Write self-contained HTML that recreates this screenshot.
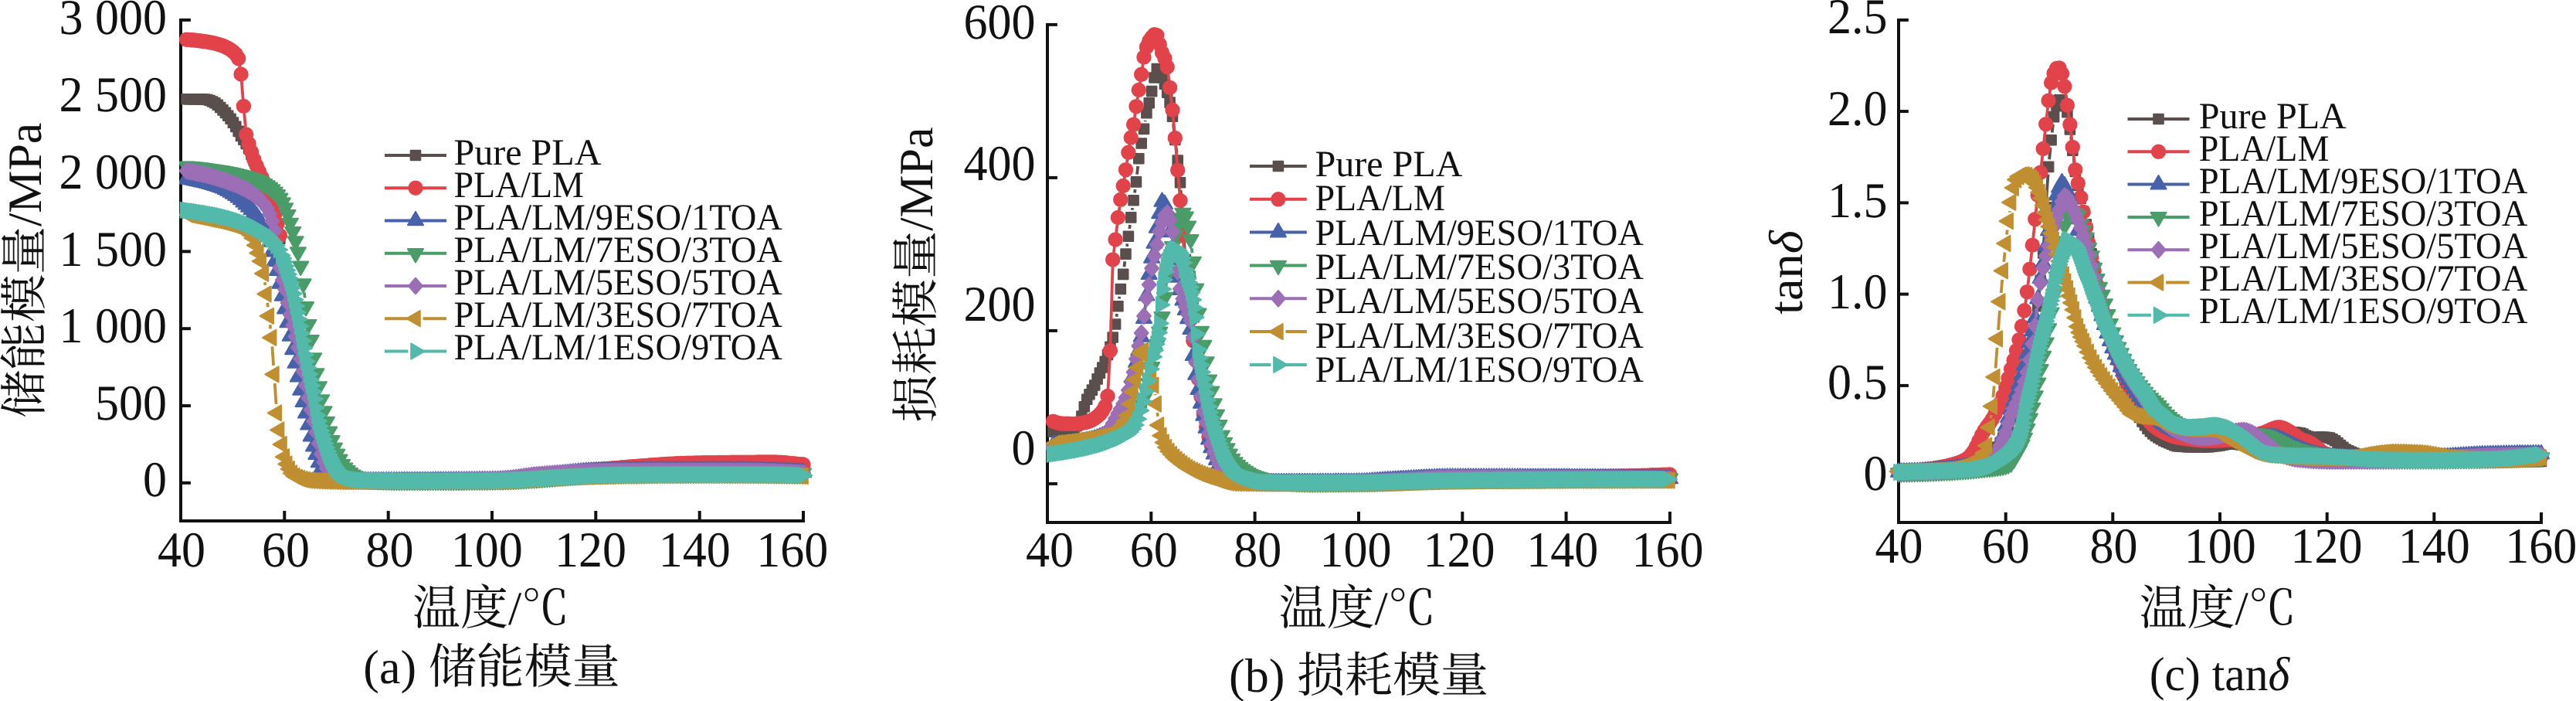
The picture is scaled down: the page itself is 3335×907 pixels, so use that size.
<!DOCTYPE html><html><head><meta charset="utf-8"><title>DMA</title>
<style>html,body{margin:0;padding:0;background:#fff;overflow:hidden}svg{display:block;will-change:transform}text{font-family:'Liberation Serif','Noto Serif CJK SC',serif;fill:#111;text-rendering:geometricPrecision}</style></head><body>
<svg width="3335" height="907" viewBox="0 0 3335 907">
<rect width="3335" height="907" fill="#fff"/>
<defs>
<marker id="m-gray" markerUnits="userSpaceOnUse" markerWidth="30" markerHeight="30" viewBox="-15 -15 30 30" refX="0" refY="0" orient="0" overflow="visible"><g fill="#5a4f4d" stroke="#5a4f4d" stroke-width="2" stroke-linejoin="round"><rect x="-6.3" y="-6.3" width="12.6" height="12.6"/></g></marker>
<marker id="m-red" markerUnits="userSpaceOnUse" markerWidth="30" markerHeight="30" viewBox="-15 -15 30 30" refX="0" refY="0" orient="0" overflow="visible"><g fill="#e2434a" stroke="#e2434a" stroke-width="2" stroke-linejoin="round"><circle r="8.7"/></g></marker>
<marker id="m-blue" markerUnits="userSpaceOnUse" markerWidth="30" markerHeight="30" viewBox="-15 -15 30 30" refX="0" refY="0" orient="0" overflow="visible"><g fill="#4762a9" stroke="#4762a9" stroke-width="2" stroke-linejoin="round"><path d="M0,-11.6 L10.05,5.8 L-10.05,5.8Z"/></g></marker>
<marker id="m-green" markerUnits="userSpaceOnUse" markerWidth="30" markerHeight="30" viewBox="-15 -15 30 30" refX="0" refY="0" orient="0" overflow="visible"><g fill="#4a9c69" stroke="#4a9c69" stroke-width="2" stroke-linejoin="round"><path d="M0,11.6 L10.05,-5.8 L-10.05,-5.8Z"/></g></marker>
<marker id="m-purple" markerUnits="userSpaceOnUse" markerWidth="30" markerHeight="30" viewBox="-15 -15 30 30" refX="0" refY="0" orient="0" overflow="visible"><g fill="#9b6eb6" stroke="#9b6eb6" stroke-width="2" stroke-linejoin="round"><path d="M0,-10.3 L9,0 L0,10.3 L-9,0Z"/></g></marker>
<marker id="m-gold" markerUnits="userSpaceOnUse" markerWidth="30" markerHeight="30" viewBox="-15 -15 30 30" refX="0" refY="0" orient="0" overflow="visible"><g fill="#c08f31" stroke="#c08f31" stroke-width="2" stroke-linejoin="round"><path d="M-11.6,0 L5.8,-10.05 L5.8,10.05Z"/></g></marker>
<marker id="m-teal" markerUnits="userSpaceOnUse" markerWidth="30" markerHeight="30" viewBox="-15 -15 30 30" refX="0" refY="0" orient="0" overflow="visible"><g fill="#53baab" stroke="#53baab" stroke-width="2" stroke-linejoin="round"><path d="M11.6,0 L-5.8,-10.05 L-5.8,10.05Z"/></g></marker>
</defs>
<g stroke="#111" stroke-width="4" fill="none" stroke-linecap="butt">
<path d="M234.0,23.9 V673.9 H1042.0"/>
<path d="M234.0,25.9 h12.9"/>
<path d="M234.0,125.7 h12.9"/>
<path d="M234.0,225.5 h12.9"/>
<path d="M234.0,325.4 h12.9"/>
<path d="M234.0,425.2 h12.9"/>
<path d="M234.0,525.0 h12.9"/>
<path d="M234.0,624.8 h12.9"/>
<path d="M368.3,673.9 v-12.9"/>
<path d="M502.7,673.9 v-12.9"/>
<path d="M637.0,673.9 v-12.9"/>
<path d="M771.3,673.9 v-12.9"/>
<path d="M905.7,673.9 v-12.9"/>
<path d="M1040.0,673.9 v-12.9"/>
</g>
<clipPath id="clip-a"><rect x="232.0" y="0" width="1200" height="907"/></clipPath><g clip-path="url(#clip-a)">
<path d="M363.1,318.5L365.1,349.2" fill="none" stroke="#5a4f4d" stroke-width="3.8"/>
<polyline points="241.5,128.2 244.9,128.2 248.2,128.3 251.6,128.3 254.9,128.3 258.3,128.4 261.6,128.4 265.0,128.5 268.4,129.0 271.7,130.0 275.1,131.5 278.4,133.2 281.8,135.8 285.2,139.0 288.5,142.4 291.9,145.9 295.2,149.7 298.6,153.8 301.9,158.6 305.3,163.9 308.7,169.9 312.0,176.0 315.4,180.7 318.7,185.9 322.1,192.2 325.5,199.9 328.8,208.0 332.2,215.4 335.5,222.8 338.9,230.7 342.2,239.2 345.6,248.2 349.0,257.8 352.3,268.3 355.7,280.0 359.0,292.8 362.4,308.7 365.8,359.0 369.1,370.7 372.5,385.4 375.8,401.9 379.2,416.2 382.6,430.4 385.9,444.6 389.3,459.0 392.6,474.5 396.0,492.0 399.3,509.1 402.7,524.8 406.1,539.8 409.4,554.2 412.8,568.5 416.1,583.1 419.5,594.4 422.9,603.4 426.2,609.0 429.6,613.2 432.9,615.9 436.3,617.4 439.6,618.7 443.0,619.8 446.4,620.5 449.7,621.0 453.1,621.2 456.4,621.5 459.8,621.7 463.1,621.9 466.5,622.1 469.9,622.3 473.2,622.4 476.6,622.6 479.9,622.7 483.3,622.8 486.7,622.9 490.0,622.9 493.4,623.0 496.7,623.0 500.1,623.0 503.4,623.0 506.8,623.0 510.2,623.0 513.5,623.0 516.9,623.0 520.2,623.0 523.6,623.0 527.0,623.0 530.3,622.9 533.7,622.9 537.0,622.9 540.4,622.9 543.8,622.9 547.1,622.9 550.5,622.9 553.8,622.8 557.2,622.8 560.5,622.8 563.9,622.8 567.3,622.7 570.6,622.7 574.0,622.7 577.3,622.7 580.7,622.6 584.0,622.6 587.4,622.6 590.8,622.6 594.1,622.5 597.5,622.5 600.8,622.5 604.2,622.4 607.6,622.4 610.9,622.3 614.3,622.3 617.6,622.3 621.0,622.2 624.4,622.2 627.7,622.2 631.1,622.1 634.4,622.1 637.8,622.0 641.1,622.0 644.5,621.9 647.9,621.8 651.2,621.7 654.6,621.6 657.9,621.5 661.3,621.3 664.7,621.2 668.0,621.0 671.4,620.8 674.7,620.6 678.1,620.4 681.4,620.1 684.8,619.9 688.2,619.6 691.5,619.4 694.9,619.1 698.2,618.8 701.6,618.5 705.0,618.2 708.3,617.9 711.7,617.6 715.0,617.3 718.4,617.0 721.7,616.7 725.1,616.4 728.5,616.1 731.8,615.8 735.2,615.5 738.5,615.2 741.9,614.9 745.2,614.6 748.6,614.3 752.0,614.0 755.3,613.8 758.7,613.5 762.0,613.2 765.4,613.0 768.8,612.7 772.1,612.5 775.5,612.3 778.8,612.1 782.2,611.9 785.5,611.7 788.9,611.5 792.3,611.2 795.6,611.0 799.0,610.8 802.3,610.6 805.7,610.4 809.1,610.1 812.4,609.9 815.8,609.7 819.1,609.5 822.5,609.2 825.9,609.0 829.2,608.8 832.6,608.6 835.9,608.4 839.3,608.2 842.6,608.0 846.0,607.8 849.4,607.6 852.7,607.4 856.1,607.2 859.4,607.1 862.8,606.9 866.1,606.8 869.5,606.6 872.9,606.5 876.2,606.4 879.6,606.3 882.9,606.2 886.3,606.1 889.7,606.1 893.0,606.0 896.4,606.0 899.7,606.0 903.1,606.0 906.5,606.0 909.8,606.0 913.2,606.0 916.5,606.0 919.9,606.0 923.2,606.1 926.6,606.1 930.0,606.1 933.3,606.1 936.7,606.2 940.0,606.2 943.4,606.3 946.8,606.3 950.1,606.4 953.5,606.4 956.8,606.5 960.2,606.5 963.5,606.6 966.9,606.7 970.3,606.8 973.6,606.9 977.0,607.0 980.3,607.1 983.7,607.2 987.1,607.3 990.4,607.4 993.8,607.5 997.1,607.6 1000.5,607.8 1003.8,607.9 1007.2,608.1 1010.6,608.3 1013.9,608.4 1017.3,608.6 1020.6,608.8 1024.0,609.0 1027.3,609.2 1030.7,609.4 1034.1,609.6 1037.4,609.8 1040.0,610.0" fill="none" stroke="none" marker-start="url(#m-gray)" marker-mid="url(#m-gray)" marker-end="url(#m-gray)"/>
<path d="M310.2,84.7L310.5,86.9M312.8,105.2L314.6,128.2M316.2,146.5L317.9,164.8M363.1,313.8L365.1,339.3" fill="none" stroke="#e2434a" stroke-width="3.8"/>
<polyline points="241.5,51.2 244.9,51.4 248.2,51.7 251.6,52.0 254.9,52.4 258.3,52.8 261.6,53.2 265.0,53.6 268.4,54.1 271.7,54.7 275.1,55.4 278.4,56.2 281.8,57.1 285.2,58.1 288.5,59.3 291.9,60.7 295.2,62.4 298.6,64.5 301.9,66.8 305.3,70.1 308.7,75.7 312.0,96.0 315.4,137.4 318.7,174.0 322.1,185.9 325.5,196.5 328.8,206.4 332.2,214.7 335.5,221.9 338.9,229.3 342.2,237.7 345.6,246.5 349.0,255.9 352.3,266.0 355.7,277.4 359.0,289.8 362.4,304.7 365.8,348.5 369.1,366.1 372.5,378.3 375.8,396.0 379.2,410.8 382.6,424.8 385.9,439.1 389.3,453.3 392.6,468.2 396.0,485.1 399.3,502.7 402.7,518.8 406.1,534.0 409.4,548.7 412.8,562.9 416.1,577.6 419.5,590.3 422.9,600.3 426.2,607.1 429.6,611.9 432.9,615.2 436.3,616.6 439.6,617.6 443.0,618.6 446.4,619.4 449.7,620.1 453.1,620.7 456.4,621.1 459.8,621.5 463.1,621.8 466.5,621.9 469.9,622.0 473.2,622.0 476.6,622.0 479.9,622.0 483.3,622.0 486.7,622.0 490.0,622.0 493.4,622.0 496.7,622.0 500.1,622.0 503.4,622.0 506.8,622.0 510.2,622.0 513.5,621.9 516.9,621.9 520.2,621.9 523.6,621.9 527.0,621.9 530.3,621.9 533.7,621.9 537.0,621.9 540.4,621.8 543.8,621.8 547.1,621.8 550.5,621.8 553.8,621.8 557.2,621.8 560.5,621.7 563.9,621.7 567.3,621.7 570.6,621.7 574.0,621.7 577.3,621.6 580.7,621.6 584.0,621.6 587.4,621.6 590.8,621.5 594.1,621.5 597.5,621.5 600.8,621.4 604.2,621.4 607.6,621.4 610.9,621.3 614.3,621.3 617.6,621.3 621.0,621.2 624.4,621.2 627.7,621.2 631.1,621.1 634.4,621.1 637.8,621.0 641.1,621.0 644.5,620.9 647.9,620.7 651.2,620.5 654.6,620.3 657.9,620.0 661.3,619.6 664.7,619.3 668.0,618.9 671.4,618.5 674.7,618.1 678.1,617.6 681.4,617.2 684.8,616.8 688.2,616.3 691.5,615.9 694.9,615.5 698.2,615.2 701.6,614.8 705.0,614.5 708.3,614.2 711.7,613.8 715.0,613.5 718.4,613.1 721.7,612.7 725.1,612.4 728.5,612.0 731.8,611.7 735.2,611.3 738.5,611.0 741.9,610.6 745.2,610.3 748.6,609.9 752.0,609.6 755.3,609.2 758.7,608.9 762.0,608.6 765.4,608.3 768.8,608.0 772.1,607.7 775.5,607.4 778.8,607.1 782.2,606.8 785.5,606.5 788.9,606.3 792.3,606.0 795.6,605.7 799.0,605.4 802.3,605.1 805.7,604.8 809.1,604.6 812.4,604.3 815.8,604.0 819.1,603.7 822.5,603.4 825.9,603.2 829.2,602.9 832.6,602.6 835.9,602.4 839.3,602.1 842.6,601.8 846.0,601.6 849.4,601.4 852.7,601.1 856.1,600.9 859.4,600.7 862.8,600.5 866.1,600.3 869.5,600.1 872.9,599.9 876.2,599.8 879.6,599.6 882.9,599.5 886.3,599.4 889.7,599.2 893.0,599.2 896.4,599.1 899.7,599.0 903.1,598.9 906.5,598.9 909.8,598.8 913.2,598.8 916.5,598.7 919.9,598.7 923.2,598.6 926.6,598.6 930.0,598.5 933.3,598.5 936.7,598.4 940.0,598.4 943.4,598.4 946.8,598.3 950.1,598.3 953.5,598.3 956.8,598.2 960.2,598.2 963.5,598.2 966.9,598.1 970.3,598.1 973.6,598.1 977.0,598.1 980.3,598.0 983.7,598.0 987.1,598.0 990.4,598.0 993.8,598.0 997.1,598.0 1000.5,598.0 1003.8,598.0 1007.2,598.2 1010.6,598.3 1013.9,598.5 1017.3,598.8 1020.6,599.1 1024.0,599.4 1027.3,599.7 1030.7,600.1 1034.1,600.4 1037.4,600.8 1040.0,601.0" fill="none" stroke="none" marker-start="url(#m-red)" marker-mid="url(#m-red)" marker-end="url(#m-red)"/>
<polyline points="241.5,231.6 244.9,232.2 248.2,232.8 251.6,233.5 254.9,234.2 258.3,234.9 261.6,235.7 265.0,236.5 268.4,237.3 271.7,238.2 275.1,239.2 278.4,240.2 281.8,241.3 285.2,242.5 288.5,243.8 291.9,245.3 295.2,247.0 298.6,248.9 301.9,251.0 305.3,253.2 308.7,255.6 312.0,258.5 315.4,261.6 318.7,264.8 322.1,267.9 325.5,271.4 328.8,275.2 332.2,279.4 335.5,284.1 338.9,289.5 342.2,296.0 345.6,303.7 349.0,313.0 352.3,325.6 355.7,338.1 359.0,350.1 362.4,366.9 365.8,383.0 369.1,399.7 372.5,417.4 375.8,434.9 379.2,452.4 382.6,469.9 385.9,487.7 389.3,504.9 392.6,520.1 396.0,534.6 399.3,549.6 402.7,564.8 406.1,577.6 409.4,588.3 412.8,598.5 416.1,606.2 419.5,611.1 422.9,614.6 426.2,616.5 429.6,617.8 432.9,618.9 436.3,619.7 439.6,620.4 443.0,620.8 446.4,621.1 449.7,621.4 453.1,621.6 456.4,621.8 459.8,622.0 463.1,622.1 466.5,622.3 469.9,622.4 473.2,622.4 476.6,622.5 479.9,622.5 483.3,622.5 486.7,622.5 490.0,622.5 493.4,622.5 496.7,622.5 500.1,622.5 503.4,622.5 506.8,622.5 510.2,622.5 513.5,622.5 516.9,622.5 520.2,622.4 523.6,622.4 527.0,622.4 530.3,622.4 533.7,622.4 537.0,622.4 540.4,622.4 543.8,622.4 547.1,622.3 550.5,622.3 553.8,622.3 557.2,622.3 560.5,622.3 563.9,622.2 567.3,622.2 570.6,622.2 574.0,622.2 577.3,622.2 580.7,622.1 584.0,622.1 587.4,622.1 590.8,622.0 594.1,622.0 597.5,622.0 600.8,622.0 604.2,621.9 607.6,621.9 610.9,621.8 614.3,621.8 617.6,621.8 621.0,621.7 624.4,621.7 627.7,621.7 631.1,621.6 634.4,621.6 637.8,621.5 641.1,621.5 644.5,621.4 647.9,621.2 651.2,621.0 654.6,620.8 657.9,620.5 661.3,620.2 664.7,619.9 668.0,619.5 671.4,619.1 674.7,618.8 678.1,618.4 681.4,618.0 684.8,617.6 688.2,617.2 691.5,616.8 694.9,616.5 698.2,616.2 701.6,615.9 705.0,615.6 708.3,615.2 711.7,614.9 715.0,614.6 718.4,614.2 721.7,613.9 725.1,613.5 728.5,613.2 731.8,612.8 735.2,612.5 738.5,612.1 741.9,611.8 745.2,611.5 748.6,611.2 752.0,610.9 755.3,610.7 758.7,610.4 762.0,610.2 765.4,610.0 768.8,609.8 772.1,609.7 775.5,609.6 778.8,609.5 782.2,609.5 785.5,609.4 788.9,609.4 792.3,609.4 795.6,609.3 799.0,609.3 802.3,609.3 805.7,609.2 809.1,609.2 812.4,609.2 815.8,609.2 819.1,609.1 822.5,609.1 825.9,609.1 829.2,609.1 832.6,609.1 835.9,609.0 839.3,609.0 842.6,609.0 846.0,609.0 849.4,609.0 852.7,609.0 856.1,609.0 859.4,609.0 862.8,609.0 866.1,609.0 869.5,609.0 872.9,609.0 876.2,609.0 879.6,609.0 882.9,609.0 886.3,609.0 889.7,609.0 893.0,609.0 896.4,609.0 899.7,609.0 903.1,609.0 906.5,609.0 909.8,609.0 913.2,609.0 916.5,609.0 919.9,609.0 923.2,609.0 926.6,609.0 930.0,609.0 933.3,609.0 936.7,609.0 940.0,609.0 943.4,609.0 946.8,609.0 950.1,609.0 953.5,609.0 956.8,609.0 960.2,609.0 963.5,609.0 966.9,609.0 970.3,609.1 973.6,609.1 977.0,609.2 980.3,609.2 983.7,609.3 987.1,609.4 990.4,609.5 993.8,609.6 997.1,609.7 1000.5,609.8 1003.8,609.9 1007.2,610.1 1010.6,610.2 1013.9,610.3 1017.3,610.5 1020.6,610.6 1024.0,610.8 1027.3,610.9 1030.7,611.1 1034.1,611.2 1037.4,611.4 1040.0,611.5" fill="none" stroke="none" marker-start="url(#m-blue)" marker-mid="url(#m-blue)" marker-end="url(#m-blue)"/>
<path d="M393.9,378.5L394.7,385.4" fill="none" stroke="#4a9c69" stroke-width="3.8"/>
<polyline points="241.5,215.2 244.9,215.5 248.2,215.8 251.6,216.2 254.9,216.6 258.3,217.0 261.6,217.4 265.0,217.8 268.4,218.3 271.7,218.8 275.1,219.3 278.4,219.8 281.8,220.3 285.2,220.8 288.5,221.4 291.9,222.0 295.2,222.7 298.6,223.4 301.9,224.1 305.3,224.9 308.7,225.7 312.0,226.5 315.4,227.4 318.7,228.3 322.1,229.3 325.5,230.3 328.8,231.5 332.2,232.8 335.5,234.2 338.9,235.8 342.2,237.8 345.6,240.0 349.0,242.4 352.3,245.1 355.7,248.2 359.0,251.9 362.4,256.4 365.8,262.1 369.1,269.0 372.5,277.7 375.8,288.5 379.2,299.7 382.6,312.1 385.9,326.1 389.3,344.4 392.6,367.1 396.0,396.8 399.3,419.7 402.7,439.7 406.1,463.0 409.4,483.0 412.8,500.0 416.1,517.0 419.5,532.0 422.9,545.5 426.2,558.4 429.6,569.8 432.9,579.4 436.3,587.4 439.6,594.3 443.0,600.7 446.4,605.4 449.7,608.8 453.1,611.8 456.4,614.2 459.8,616.1 463.1,617.4 466.5,618.4 469.9,619.4 473.2,620.1 476.6,620.6 479.9,621.0 483.3,621.2 486.7,621.4 490.0,621.6 493.4,621.8 496.7,622.0 500.1,622.1 503.4,622.2 506.8,622.3 510.2,622.4 513.5,622.5 516.9,622.5 520.2,622.5 523.6,622.5 527.0,622.5 530.3,622.5 533.7,622.5 537.0,622.5 540.4,622.5 543.8,622.5 547.1,622.5 550.5,622.5 553.8,622.5 557.2,622.4 560.5,622.4 563.9,622.4 567.3,622.4 570.6,622.4 574.0,622.4 577.3,622.4 580.7,622.4 584.0,622.3 587.4,622.3 590.8,622.3 594.1,622.3 597.5,622.3 600.8,622.3 604.2,622.2 607.6,622.2 610.9,622.2 614.3,622.2 617.6,622.2 621.0,622.1 624.4,622.1 627.7,622.1 631.1,622.1 634.4,622.0 637.8,622.0 641.1,622.0 644.5,621.9 647.9,621.9 651.2,621.8 654.6,621.7 657.9,621.6 661.3,621.5 664.7,621.3 668.0,621.2 671.4,621.0 674.7,620.8 678.1,620.7 681.4,620.5 684.8,620.2 688.2,620.0 691.5,619.8 694.9,619.6 698.2,619.3 701.6,619.1 705.0,618.8 708.3,618.6 711.7,618.3 715.0,618.1 718.4,617.8 721.7,617.6 725.1,617.3 728.5,617.1 731.8,616.8 735.2,616.6 738.5,616.3 741.9,616.1 745.2,615.9 748.6,615.6 752.0,615.4 755.3,615.2 758.7,615.0 762.0,614.8 765.4,614.6 768.8,614.5 772.1,614.3 775.5,614.2 778.8,614.0 782.2,613.9 785.5,613.8 788.9,613.7 792.3,613.6 795.6,613.5 799.0,613.3 802.3,613.2 805.7,613.1 809.1,613.0 812.4,612.9 815.8,612.8 819.1,612.6 822.5,612.5 825.9,612.4 829.2,612.3 832.6,612.2 835.9,612.1 839.3,612.0 842.6,611.9 846.0,611.8 849.4,611.7 852.7,611.6 856.1,611.6 859.4,611.5 862.8,611.4 866.1,611.3 869.5,611.3 872.9,611.2 876.2,611.2 879.6,611.1 882.9,611.1 886.3,611.1 889.7,611.0 893.0,611.0 896.4,611.0 899.7,611.0 903.1,611.0 906.5,611.0 909.8,611.0 913.2,611.0 916.5,611.0 919.9,611.0 923.2,611.0 926.6,611.0 930.0,611.0 933.3,611.0 936.7,611.0 940.0,611.0 943.4,611.0 946.8,611.0 950.1,611.0 953.5,611.1 956.8,611.1 960.2,611.1 963.5,611.1 966.9,611.1 970.3,611.1 973.6,611.1 977.0,611.2 980.3,611.2 983.7,611.2 987.1,611.2 990.4,611.3 993.8,611.3 997.1,611.3 1000.5,611.4 1003.8,611.4 1007.2,611.5 1010.6,611.5 1013.9,611.5 1017.3,611.6 1020.6,611.6 1024.0,611.7 1027.3,611.8 1030.7,611.8 1034.1,611.9 1037.4,611.9 1040.0,612.0" fill="none" stroke="none" marker-start="url(#m-green)" marker-mid="url(#m-green)" marker-end="url(#m-green)"/>
<path d="M357.2,309.4L357.5,311.8M360.6,333.6L360.8,335.2" fill="none" stroke="#9b6eb6" stroke-width="3.8"/>
<polyline points="241.5,221.1 244.9,221.7 248.2,222.4 251.6,223.0 254.9,223.7 258.3,224.5 261.6,225.2 265.0,226.0 268.4,226.8 271.7,227.7 275.1,228.6 278.4,229.6 281.8,230.6 285.2,231.7 288.5,232.8 291.9,233.9 295.2,235.1 298.6,236.3 301.9,237.6 305.3,238.9 308.7,240.3 312.0,241.9 315.4,243.5 318.7,245.3 322.1,247.2 325.5,249.4 328.8,251.9 332.2,254.5 335.5,257.3 338.9,260.3 342.2,264.0 345.6,269.4 349.0,276.9 352.3,286.0 355.7,298.5 359.0,322.7 362.4,346.1 365.8,362.2 369.1,374.3 372.5,391.9 375.8,407.1 379.2,421.2 382.6,435.5 385.9,449.7 389.3,464.3 392.6,480.6 396.0,498.4 399.3,514.8 402.7,530.2 406.1,545.0 409.4,559.3 412.8,573.8 416.1,587.4 419.5,598.0 422.9,605.8 426.2,610.7 429.6,614.4 432.9,616.4 436.3,617.9 439.6,619.0 443.0,619.9 446.4,620.6 449.7,621.0 453.1,621.2 456.4,621.4 459.8,621.5 463.1,621.7 466.5,621.8 469.9,622.0 473.2,622.1 476.6,622.2 479.9,622.3 483.3,622.3 486.7,622.4 490.0,622.4 493.4,622.5 496.7,622.5 500.1,622.5 503.4,622.5 506.8,622.5 510.2,622.5 513.5,622.5 516.9,622.5 520.2,622.5 523.6,622.5 527.0,622.4 530.3,622.4 533.7,622.4 537.0,622.4 540.4,622.4 543.8,622.4 547.1,622.3 550.5,622.3 553.8,622.3 557.2,622.3 560.5,622.2 563.9,622.2 567.3,622.2 570.6,622.1 574.0,622.1 577.3,622.1 580.7,622.0 584.0,622.0 587.4,621.9 590.8,621.9 594.1,621.8 597.5,621.8 600.8,621.7 604.2,621.7 607.6,621.6 610.9,621.6 614.3,621.5 617.6,621.5 621.0,621.4 624.4,621.3 627.7,621.3 631.1,621.2 634.4,621.1 637.8,621.0 641.1,621.0 644.5,620.8 647.9,620.6 651.2,620.3 654.6,620.0 657.9,619.6 661.3,619.1 664.7,618.7 668.0,618.2 671.4,617.7 674.7,617.1 678.1,616.6 681.4,616.1 684.8,615.7 688.2,615.2 691.5,614.8 694.9,614.4 698.2,614.1 701.6,613.9 705.0,613.6 708.3,613.4 711.7,613.2 715.0,612.9 718.4,612.7 721.7,612.5 725.1,612.3 728.5,612.1 731.8,611.9 735.2,611.7 738.5,611.5 741.9,611.3 745.2,611.1 748.6,611.0 752.0,610.8 755.3,610.7 758.7,610.5 762.0,610.4 765.4,610.3 768.8,610.2 772.1,610.1 775.5,610.1 778.8,610.0 782.2,610.0 785.5,609.9 788.9,609.9 792.3,609.9 795.6,609.8 799.0,609.8 802.3,609.8 805.7,609.7 809.1,609.7 812.4,609.7 815.8,609.7 819.1,609.6 822.5,609.6 825.9,609.6 829.2,609.6 832.6,609.6 835.9,609.6 839.3,609.5 842.6,609.5 846.0,609.5 849.4,609.5 852.7,609.5 856.1,609.5 859.4,609.5 862.8,609.5 866.1,609.5 869.5,609.5 872.9,609.5 876.2,609.5 879.6,609.5 882.9,609.5 886.3,609.5 889.7,609.5 893.0,609.5 896.4,609.5 899.7,609.5 903.1,609.5 906.5,609.5 909.8,609.5 913.2,609.5 916.5,609.5 919.9,609.5 923.2,609.5 926.6,609.5 930.0,609.5 933.3,609.5 936.7,609.5 940.0,609.5 943.4,609.5 946.8,609.5 950.1,609.5 953.5,609.5 956.8,609.5 960.2,609.5 963.5,609.5 966.9,609.5 970.3,609.6 973.6,609.6 977.0,609.7 980.3,609.7 983.7,609.8 987.1,609.9 990.4,610.0 993.8,610.1 997.1,610.2 1000.5,610.3 1003.8,610.4 1007.2,610.6 1010.6,610.7 1013.9,610.8 1017.3,611.0 1020.6,611.1 1024.0,611.3 1027.3,611.4 1030.7,611.6 1034.1,611.7 1037.4,611.9 1040.0,612.0" fill="none" stroke="none" marker-start="url(#m-purple)" marker-mid="url(#m-purple)" marker-end="url(#m-purple)"/>
<path d="M342.9,365.2L343.4,369.0M346.2,391.8L346.9,397.3M349.6,420.2L350.2,425.4M352.4,448.3L354.1,472.8M355.7,495.8L357.5,522.8" fill="none" stroke="#c08f31" stroke-width="3.8"/>
<polyline points="244.1,277.8 247.5,278.4 250.8,279.1 254.2,279.8 257.5,280.4 260.9,281.1 264.2,281.8 267.6,282.6 271.0,283.3 274.3,284.0 277.7,284.7 281.0,285.4 284.4,286.2 287.8,287.0 291.1,287.9 294.5,288.8 297.8,289.8 301.2,290.9 304.6,292.0 307.9,293.2 311.3,294.6 314.6,296.3 318.0,298.2 321.3,300.5 324.7,303.7 328.1,308.1 331.4,317.3 334.8,327.4 338.1,338.0 341.5,353.8 344.9,380.4 348.2,408.8 351.6,436.8 354.9,484.3 358.3,534.3 361.6,556.4 365.0,575.0 368.4,591.2 371.7,600.5 375.1,607.0 378.4,612.4 381.8,615.9 385.2,617.6 388.5,619.0 391.9,620.1 395.2,620.9 398.6,621.4 401.9,621.6 405.3,621.8 408.7,622.0 412.0,622.2 415.4,622.3 418.7,622.4 422.1,622.6 425.5,622.7 428.8,622.7 432.2,622.8 435.5,622.9 438.9,622.9 442.2,623.0 445.6,623.0 449.0,623.0 452.3,623.0 455.7,623.0 459.0,623.0 462.4,623.0 465.8,623.0 469.1,623.0 472.5,623.0 475.8,623.0 479.2,623.0 482.5,623.0 485.9,623.0 489.3,623.0 492.6,623.0 496.0,623.0 499.3,623.0 502.7,623.0 506.1,623.0 509.4,623.0 512.8,622.9 516.1,622.9 519.5,622.9 522.8,622.9 526.2,622.9 529.6,622.9 532.9,622.9 536.3,622.9 539.6,622.9 543.0,622.9 546.4,622.9 549.7,622.9 553.1,622.9 556.4,622.9 559.8,622.8 563.1,622.8 566.5,622.8 569.9,622.8 573.2,622.8 576.6,622.8 579.9,622.8 583.3,622.8 586.6,622.7 590.0,622.7 593.4,622.7 596.7,622.7 600.1,622.7 603.4,622.7 606.8,622.7 610.2,622.7 613.5,622.6 616.9,622.6 620.2,622.6 623.6,622.6 627.0,622.6 630.3,622.6 633.7,622.5 637.0,622.5 640.4,622.5 643.7,622.5 647.1,622.4 650.5,622.3 653.8,622.2 657.2,622.1 660.5,621.9 663.9,621.7 667.3,621.5 670.6,621.3 674.0,621.1 677.3,620.9 680.7,620.6 684.0,620.4 687.4,620.1 690.8,619.9 694.1,619.6 697.5,619.4 700.8,619.1 704.2,618.9 707.6,618.6 710.9,618.4 714.3,618.2 717.6,618.0 721.0,617.8 724.3,617.6 727.7,617.4 731.1,617.3 734.4,617.2 737.8,617.1 741.1,617.0 744.5,616.9 747.9,616.8 751.2,616.8 754.6,616.7 757.9,616.6 761.3,616.6 764.6,616.5 768.0,616.4 771.4,616.4 774.7,616.3 778.1,616.2 781.4,616.2 784.8,616.1 788.1,616.1 791.5,616.0 794.9,615.9 798.2,615.9 801.6,615.8 804.9,615.8 808.3,615.7 811.7,615.7 815.0,615.6 818.4,615.6 821.7,615.5 825.1,615.5 828.5,615.5 831.8,615.4 835.2,615.4 838.5,615.3 841.9,615.3 845.2,615.3 848.6,615.2 852.0,615.2 855.3,615.2 858.7,615.2 862.0,615.1 865.4,615.1 868.8,615.1 872.1,615.1 875.5,615.1 878.8,615.0 882.2,615.0 885.5,615.0 888.9,615.0 892.3,615.0 895.6,615.0 899.0,615.0 902.3,615.0 905.7,615.0 909.1,615.0 912.4,615.0 915.8,615.0 919.1,615.0 922.5,615.0 925.8,615.0 929.2,615.0 932.6,615.0 935.9,615.1 939.3,615.1 942.6,615.1 946.0,615.1 949.4,615.1 952.7,615.1 956.1,615.1 959.4,615.2 962.8,615.2 966.1,615.2 969.5,615.2 972.9,615.2 976.2,615.3 979.6,615.3 982.9,615.3 986.3,615.3 989.7,615.4 993.0,615.4 996.4,615.4 999.7,615.5 1003.1,615.5 1006.4,615.5 1009.8,615.6 1013.2,615.6 1016.5,615.7 1019.9,615.7 1023.2,615.8 1026.6,615.8 1029.9,615.8 1033.3,615.9 1036.7,615.9 1040.0,616.0" fill="none" stroke="none" marker-start="url(#m-gold)" marker-mid="url(#m-gold)" marker-end="url(#m-gold)"/>
<polyline points="239.5,271.8 242.9,272.2 246.2,272.6 249.6,273.1 252.9,273.5 256.3,274.0 259.6,274.6 263.0,275.1 266.4,275.6 269.7,276.2 273.1,276.8 276.4,277.4 279.8,278.0 283.2,278.7 286.5,279.4 289.9,280.2 293.2,281.0 296.6,281.8 300.0,282.7 303.3,283.6 306.7,284.7 310.0,285.7 313.4,286.9 316.7,288.1 320.1,289.4 323.5,290.8 326.8,292.4 330.2,294.0 333.5,295.9 336.9,297.9 340.3,300.3 343.6,303.2 347.0,306.4 350.3,309.7 353.7,313.3 357.0,317.6 360.4,323.1 363.8,330.3 365.5,334.4 367.2,339.1 368.9,344.3 370.6,349.7 372.3,354.9 374.0,360.1 375.7,365.8 377.4,372.4 379.1,379.9 380.8,387.9 382.5,396.0 384.2,404.4 385.9,413.1 387.6,422.0 389.3,431.3 391.0,440.9 392.7,450.2 394.4,459.0 396.1,467.7 397.8,476.0 399.5,484.1 401.2,491.6 402.9,498.9 404.6,506.8 406.3,516.3 408.0,527.3 409.7,537.3 411.4,544.9 413.1,551.5 414.8,557.5 416.5,563.1 418.2,568.5 419.9,573.9 421.6,579.2 423.3,584.2 425.0,588.6 426.7,592.4 428.4,595.9 430.1,599.3 431.8,602.4 433.5,605.1 435.2,607.4 436.9,609.3 438.6,610.8 440.3,612.1 442.0,613.4 443.7,614.6 445.4,615.6 448.7,617.3 452.1,618.4 455.4,619.3 458.8,620.0 462.1,620.6 465.5,621.1 468.9,621.4 472.2,621.5 475.6,621.6 478.9,621.7 482.3,621.7 485.7,621.8 489.0,621.9 492.4,622.0 495.7,622.0 499.1,622.1 502.5,622.1 505.8,622.2 509.2,622.2 512.5,622.2 515.9,622.3 519.2,622.3 522.6,622.3 526.0,622.3 529.3,622.3 532.7,622.3 536.0,622.3 539.4,622.3 542.8,622.3 546.1,622.3 549.5,622.3 552.8,622.3 556.2,622.3 559.5,622.3 562.9,622.3 566.3,622.3 569.6,622.3 573.0,622.3 576.3,622.2 579.7,622.2 583.1,622.2 586.4,622.2 589.8,622.2 593.1,622.2 596.5,622.2 599.8,622.2 603.2,622.2 606.6,622.2 609.9,622.1 613.3,622.1 616.6,622.1 620.0,622.1 623.4,622.1 626.7,622.1 630.1,622.1 633.4,622.0 636.8,622.0 640.1,622.0 643.5,622.0 646.9,621.9 650.2,621.9 653.6,621.8 656.9,621.7 660.3,621.5 663.7,621.4 667.0,621.3 670.4,621.1 673.7,620.9 677.1,620.8 680.4,620.6 683.8,620.4 687.2,620.2 690.5,620.0 693.9,619.8 697.2,619.5 700.6,619.3 704.0,619.1 707.3,618.9 710.7,618.7 714.0,618.5 717.4,618.2 720.7,618.0 724.1,617.8 727.5,617.6 730.8,617.5 734.2,617.3 737.5,617.1 740.9,617.0 744.3,616.8 747.6,616.6 751.0,616.5 754.3,616.3 757.7,616.1 761.0,615.9 764.4,615.8 767.8,615.6 771.1,615.4 774.5,615.3 777.8,615.1 781.2,615.0 784.6,614.9 787.9,614.7 791.3,614.7 794.6,614.6 798.0,614.5 801.3,614.5 804.7,614.5 808.1,614.4 811.4,614.4 814.8,614.4 818.1,614.3 821.5,614.3 824.9,614.3 828.2,614.3 831.6,614.2 834.9,614.2 838.3,614.2 841.6,614.2 845.0,614.2 848.4,614.1 851.7,614.1 855.1,614.1 858.4,614.1 861.8,614.1 865.2,614.1 868.5,614.1 871.9,614.0 875.2,614.0 878.6,614.0 881.9,614.0 885.3,614.0 888.7,614.0 892.0,614.0 895.4,614.0 898.7,614.0 902.1,614.0 905.5,614.0 908.8,614.0 912.2,614.0 915.5,614.0 918.9,614.0 922.2,614.0 925.6,614.0 929.0,614.0 932.3,614.0 935.7,614.0 939.0,614.0 942.4,614.0 945.8,614.0 949.1,614.0 952.5,614.0 955.8,614.0 959.2,614.0 962.5,614.0 965.9,614.0 969.3,614.0 972.6,614.0 976.0,614.0 979.3,614.0 982.7,614.0 986.1,614.0 989.4,614.0 992.8,614.0 996.1,614.0 999.5,614.0 1002.8,614.0 1006.2,614.0 1009.6,614.1 1012.9,614.2 1016.3,614.2 1019.6,614.3 1023.0,614.4 1026.4,614.5 1029.7,614.7 1033.1,614.8 1036.4,614.9 1039.8,615.0" fill="none" stroke="none" marker-start="url(#m-teal)" marker-mid="url(#m-teal)" marker-end="url(#m-teal)"/>
</g>
<text transform="translate(216.0,44.3) scale(0.9538,1)" font-size="65" text-anchor="end">3 000</text>
<text transform="translate(216.0,144.0) scale(0.9538,1)" font-size="65" text-anchor="end">2 500</text>
<text transform="translate(216.0,243.7) scale(0.9538,1)" font-size="65" text-anchor="end">2 000</text>
<text transform="translate(216.0,343.5) scale(0.9538,1)" font-size="65" text-anchor="end">1 500</text>
<text transform="translate(216.0,443.3) scale(0.9538,1)" font-size="65" text-anchor="end">1 000</text>
<text transform="translate(216.0,543.1) scale(0.9538,1)" font-size="65" text-anchor="end">500</text>
<text transform="translate(216.0,642.4) scale(0.9538,1)" font-size="65" text-anchor="end">0</text>
<text transform="translate(234.9,732.7) scale(0.9538,1)" font-size="65" text-anchor="middle">40</text>
<text transform="translate(369.9,732.7) scale(0.9538,1)" font-size="65" text-anchor="middle">60</text>
<text transform="translate(504.5,732.7) scale(0.9538,1)" font-size="65" text-anchor="middle">80</text>
<text transform="translate(630.3,732.7) scale(0.9538,1)" font-size="65" text-anchor="middle">100</text>
<text transform="translate(764.6,732.7) scale(0.9538,1)" font-size="65" text-anchor="middle">120</text>
<text transform="translate(899.3,732.7) scale(0.9538,1)" font-size="65" text-anchor="middle">140</text>
<text transform="translate(1025.7,732.7) scale(0.9538,1)" font-size="65" text-anchor="middle">160</text>
<text x="635.5" y="808.3" font-size="62" text-anchor="middle">温度/℃</text>
<text transform="translate(636.5,883.8) scale(1.000,1)" font-size="62" text-anchor="middle">(a) 储能模量</text>
<text transform="translate(53.0,349.8) rotate(-90) scale(1.000,1)" font-size="62" text-anchor="middle">储能模量/MPa</text>
<path d="M498.0,201.0 H578.0" stroke="#5a4f4d" stroke-width="4" fill="none"/>
<g transform="translate(538.0,201.0)" fill="#5a4f4d" stroke="#5a4f4d" stroke-width="2" stroke-linejoin="round"><rect x="-6.3" y="-6.3" width="12.6" height="12.6"/></g>
<text x="587.4" y="212.9" font-size="48" textLength="191.0" lengthAdjust="spacingAndGlyphs">Pure PLA</text>
<path d="M498.0,243.2 H578.0" stroke="#e2434a" stroke-width="4" fill="none"/>
<g transform="translate(538.0,243.2)" fill="#e2434a" stroke="#e2434a" stroke-width="2" stroke-linejoin="round"><circle r="8.7"/></g>
<text x="587.4" y="254.9" font-size="48" textLength="168.5" lengthAdjust="spacingAndGlyphs">PLA/LM</text>
<path d="M498.0,285.5 H578.0" stroke="#4762a9" stroke-width="4" fill="none"/>
<g transform="translate(538.0,285.5)" fill="#4762a9" stroke="#4762a9" stroke-width="2" stroke-linejoin="round"><path d="M0,-11.6 L10.05,5.8 L-10.05,5.8Z"/></g>
<text x="587.4" y="296.9" font-size="48" textLength="425.5" lengthAdjust="spacingAndGlyphs">PLA/LM/9ESO/1TOA</text>
<path d="M498.0,327.8 H578.0" stroke="#4a9c69" stroke-width="4" fill="none"/>
<g transform="translate(538.0,327.8)" fill="#4a9c69" stroke="#4a9c69" stroke-width="2" stroke-linejoin="round"><path d="M0,11.6 L10.05,-5.8 L-10.05,-5.8Z"/></g>
<text x="587.4" y="338.9" font-size="48" textLength="425.5" lengthAdjust="spacingAndGlyphs">PLA/LM/7ESO/3TOA</text>
<path d="M498.0,370.0 H578.0" stroke="#9b6eb6" stroke-width="4" fill="none"/>
<g transform="translate(538.0,370.0)" fill="#9b6eb6" stroke="#9b6eb6" stroke-width="2" stroke-linejoin="round"><path d="M0,-10.3 L9,0 L0,10.3 L-9,0Z"/></g>
<text x="587.4" y="380.9" font-size="48" textLength="425.5" lengthAdjust="spacingAndGlyphs">PLA/LM/5ESO/5TOA</text>
<path d="M498.0,412.2 H538.0 M547.6,412.2 H578.0" stroke="#c08f31" stroke-width="4" fill="none"/>
<g transform="translate(538.0,412.2)" fill="#c08f31" stroke="#c08f31" stroke-width="2" stroke-linejoin="round"><path d="M-11.6,0 L5.8,-10.05 L5.8,10.05Z"/></g>
<text x="587.4" y="422.9" font-size="48" textLength="425.5" lengthAdjust="spacingAndGlyphs">PLA/LM/3ESO/7TOA</text>
<path d="M498.0,454.5 H528.4 M538.0,454.5 H578.0" stroke="#53baab" stroke-width="4" fill="none"/>
<g transform="translate(538.0,454.5)" fill="#53baab" stroke="#53baab" stroke-width="2" stroke-linejoin="round"><path d="M11.6,0 L-5.8,-10.05 L-5.8,10.05Z"/></g>
<text x="587.4" y="464.9" font-size="48" textLength="425.5" lengthAdjust="spacingAndGlyphs">PLA/LM/1ESO/9TOA</text>
<g stroke="#111" stroke-width="4" fill="none" stroke-linecap="butt">
<path d="M1356.0,29.9 V675.9 H2163.9"/>
<path d="M1356.0,31.9 h12.9"/>
<path d="M1356.0,229.9 h12.9"/>
<path d="M1356.0,427.9 h12.9"/>
<path d="M1356.0,625.9 h12.9"/>
<path d="M1490.3,675.9 v-13.9"/>
<path d="M1624.6,675.9 v-13.9"/>
<path d="M1759.0,675.9 v-13.9"/>
<path d="M1893.3,675.9 v-13.9"/>
<path d="M2027.6,675.9 v-13.9"/>
<path d="M2161.9,675.9 v-13.9"/>
</g>
<clipPath id="clip-b"><rect x="1354.0" y="0" width="1200" height="907"/></clipPath><g clip-path="url(#clip-b)">
<path d="M1445.5,409.8L1446.0,405.9M1448.9,386.5L1449.3,383.7M1455.4,345.2L1456.3,338.3M1458.9,318.9L1459.5,315.4M1462.2,296.0L1462.9,291.1M1465.7,271.7L1466.1,268.9M1469.0,249.5L1469.6,245.1M1472.0,225.6L1473.2,215.0M1482.6,157.2L1482.8,155.9M1519.0,160.5L1520.2,171.2M1522.6,190.7L1523.5,197.8M1525.8,217.2L1526.9,226.5M1528.6,246.0L1530.8,280.9M1532.1,300.4L1534.0,325.9M1535.6,345.4L1537.2,362.6M1539.1,382.1L1540.4,394.5M1542.6,414.0L1543.7,423.1M1546.1,442.6L1546.9,449.3M1549.5,468.7L1550.2,473.5M1553.0,492.9L1553.5,496.5M1556.3,515.9L1556.9,519.7" fill="none" stroke="#5a4f4d" stroke-width="3.8"/>
<polyline points="1363.5,558.4 1366.9,558.5 1370.2,558.5 1373.6,558.5 1376.9,558.4 1380.3,558.0 1383.6,557.3 1387.0,556.3 1390.4,554.6 1393.7,551.1 1397.1,546.3 1400.4,538.5 1403.8,526.2 1407.2,516.8 1410.5,510.3 1413.9,504.6 1417.2,498.5 1420.6,490.4 1423.9,482.6 1427.3,475.5 1430.7,467.8 1434.0,459.0 1437.4,448.8 1440.7,436.5 1444.1,419.5 1447.4,396.2 1450.8,374.0 1454.2,354.9 1457.5,328.6 1460.9,305.7 1464.2,281.4 1467.6,259.2 1471.0,235.4 1474.3,205.3 1477.7,185.5 1481.0,166.9 1484.4,146.2 1487.7,133.3 1491.1,118.1 1494.5,100.5 1497.8,89.1 1501.2,93.3 1504.5,100.1 1507.9,108.6 1511.2,119.6 1514.6,132.6 1518.0,150.7 1521.3,180.9 1524.7,207.5 1528.0,236.2 1531.4,290.7 1534.8,335.7 1538.1,372.4 1541.5,404.2 1544.8,432.8 1548.2,459.0 1551.5,483.2 1554.9,506.2 1558.3,529.4 1561.6,547.8 1565.0,561.8 1568.3,573.1 1571.7,581.5 1575.0,588.1 1578.4,593.8 1581.8,598.5 1585.1,602.2 1588.5,605.1 1591.8,607.7 1595.2,610.1 1598.6,612.2 1601.9,613.9 1605.3,615.4 1608.6,616.6 1612.0,617.5 1615.3,618.3 1618.7,619.1 1622.1,619.8 1625.4,620.4 1628.8,621.0 1632.1,621.4 1635.5,621.7 1638.8,622.0 1642.2,622.1 1645.6,622.2 1648.9,622.3 1652.3,622.4 1655.6,622.5 1659.0,622.6 1662.4,622.7 1665.7,622.8 1669.1,622.9 1672.4,623.0 1675.8,623.1 1679.1,623.1 1682.5,623.2 1685.9,623.3 1689.2,623.4 1692.6,623.4 1695.9,623.5 1699.3,623.5 1702.6,623.6 1706.0,623.6 1709.4,623.7 1712.7,623.7 1716.1,623.8 1719.4,623.8 1722.8,623.8 1726.2,623.9 1729.5,623.9 1732.9,623.9 1736.2,623.9 1739.6,624.0 1742.9,624.0 1746.3,624.0 1749.7,624.0 1753.0,624.0 1756.4,624.0 1759.7,624.0 1763.1,624.0 1766.5,624.0 1769.8,623.9 1773.2,623.9 1776.5,623.8 1779.9,623.7 1783.2,623.6 1786.6,623.5 1790.0,623.4 1793.3,623.3 1796.7,623.2 1800.0,623.0 1803.4,622.9 1806.7,622.7 1810.1,622.6 1813.5,622.4 1816.8,622.3 1820.2,622.1 1823.5,621.9 1826.9,621.8 1830.3,621.6 1833.6,621.5 1837.0,621.3 1840.3,621.2 1843.7,621.0 1847.0,620.9 1850.4,620.7 1853.8,620.6 1857.1,620.5 1860.5,620.4 1863.8,620.3 1867.2,620.2 1870.5,620.1 1873.9,620.1 1877.3,620.0 1880.6,620.0 1884.0,620.0 1887.3,619.9 1890.7,619.9 1894.1,619.9 1897.4,619.9 1900.8,619.9 1904.1,619.8 1907.5,619.8 1910.8,619.8 1914.2,619.8 1917.6,619.7 1920.9,619.7 1924.3,619.7 1927.6,619.7 1931.0,619.7 1934.3,619.6 1937.7,619.6 1941.1,619.6 1944.4,619.6 1947.8,619.6 1951.1,619.6 1954.5,619.5 1957.9,619.5 1961.2,619.5 1964.6,619.5 1967.9,619.5 1971.3,619.5 1974.6,619.4 1978.0,619.4 1981.4,619.4 1984.7,619.4 1988.1,619.4 1991.4,619.4 1994.8,619.3 1998.1,619.3 2001.5,619.3 2004.9,619.3 2008.2,619.3 2011.6,619.3 2014.9,619.3 2018.3,619.3 2021.7,619.2 2025.0,619.2 2028.4,619.2 2031.7,619.2 2035.1,619.2 2038.4,619.2 2041.8,619.2 2045.2,619.2 2048.5,619.2 2051.9,619.1 2055.2,619.1 2058.6,619.1 2061.9,619.1 2065.3,619.1 2068.7,619.1 2072.0,619.1 2075.4,619.1 2078.7,619.1 2082.1,619.1 2085.5,619.1 2088.8,619.1 2092.2,619.1 2095.5,619.1 2098.9,619.0 2102.2,619.0 2105.6,619.0 2109.0,619.0 2112.3,619.0 2115.7,619.0 2119.0,619.0 2122.4,619.0 2125.7,619.0 2129.1,619.0 2132.5,619.0 2135.8,619.0 2139.2,619.0 2142.5,619.0 2145.9,619.0 2149.3,619.0 2152.6,619.0 2156.0,619.0 2159.3,619.0 2161.9,619.0" fill="none" stroke="none" marker-start="url(#m-gray)" marker-mid="url(#m-gray)" marker-end="url(#m-gray)"/>
<path d="M1434.5,503.3L1436.9,462.8M1437.6,444.5L1440.5,345.1M1441.9,326.8L1442.9,319.1M1445.2,300.8L1446.4,290.7M1448.8,272.4L1449.5,267.4M1455.6,231.4L1456.1,228.8M1458.9,210.6L1459.5,206.3M1462.5,188.2L1462.7,187.0M1468.9,152.0L1469.6,146.8M1472.4,128.6L1472.9,125.5M1475.8,107.4L1476.2,105.4M1479.0,87.2L1479.7,83.0M1512.4,95.8L1513.5,104.3M1515.7,122.5L1516.9,133.2M1518.8,151.5L1520.5,169.5M1522.1,187.9L1523.9,210.9M1525.5,229.3L1527.3,250.3M1528.7,268.7L1530.7,296.0M1532.1,314.3L1534.0,338.0M1535.6,356.4L1537.2,373.1M1539.1,391.4L1540.5,403.9M1542.6,422.2L1543.7,431.7M1546.0,450.0L1547.0,457.2M1549.5,475.5L1550.3,481.0M1552.9,499.2L1553.6,504.1M1556.3,522.3L1556.9,526.6" fill="none" stroke="#e2434a" stroke-width="3.8"/>
<polyline points="1363.5,545.2 1366.9,546.5 1370.2,547.5 1373.6,548.0 1376.9,548.1 1380.3,548.2 1383.6,548.3 1387.0,548.4 1390.4,548.4 1393.7,548.3 1397.1,548.0 1400.4,547.5 1403.8,546.8 1407.2,546.0 1410.5,545.0 1413.9,543.5 1417.2,541.4 1420.6,538.9 1423.9,535.9 1427.3,531.8 1430.7,525.8 1434.0,512.5 1437.4,453.7 1440.7,335.9 1444.1,310.0 1447.4,281.5 1450.8,258.3 1454.2,240.5 1457.5,219.7 1460.9,197.3 1464.2,178.0 1467.6,161.1 1471.0,137.7 1474.3,116.5 1477.7,96.3 1481.0,73.9 1484.4,60.9 1487.7,53.2 1491.1,48.3 1494.5,44.7 1497.8,45.6 1501.2,57.4 1504.5,68.1 1507.9,75.3 1511.2,86.7 1514.6,113.4 1518.0,142.3 1521.3,178.7 1524.7,220.1 1528.0,259.5 1531.4,305.2 1534.8,347.2 1538.1,382.3 1541.5,413.1 1544.8,440.8 1548.2,466.4 1551.5,490.1 1554.9,513.2 1558.3,535.7 1561.6,552.2 1565.0,565.4 1568.3,575.9 1571.7,583.6 1575.0,590.0 1578.4,595.4 1581.8,599.8 1585.1,603.1 1588.5,605.8 1591.8,608.3 1595.2,610.5 1598.6,612.4 1601.9,614.1 1605.3,615.5 1608.6,616.6 1612.0,617.5 1615.3,618.3 1618.7,619.1 1622.1,619.8 1625.4,620.4 1628.8,621.0 1632.1,621.4 1635.5,621.7 1638.8,622.0 1642.2,622.1 1645.6,622.2 1648.9,622.3 1652.3,622.4 1655.6,622.5 1659.0,622.6 1662.4,622.7 1665.7,622.8 1669.1,622.9 1672.4,623.0 1675.8,623.1 1679.1,623.1 1682.5,623.2 1685.9,623.3 1689.2,623.4 1692.6,623.4 1695.9,623.5 1699.3,623.5 1702.6,623.6 1706.0,623.6 1709.4,623.7 1712.7,623.7 1716.1,623.8 1719.4,623.8 1722.8,623.8 1726.2,623.9 1729.5,623.9 1732.9,623.9 1736.2,623.9 1739.6,624.0 1742.9,624.0 1746.3,624.0 1749.7,624.0 1753.0,624.0 1756.4,624.0 1759.7,624.0 1763.1,624.0 1766.5,624.0 1769.8,623.9 1773.2,623.9 1776.5,623.8 1779.9,623.7 1783.2,623.6 1786.6,623.5 1790.0,623.3 1793.3,623.2 1796.7,623.1 1800.0,622.9 1803.4,622.7 1806.7,622.6 1810.1,622.4 1813.5,622.2 1816.8,622.0 1820.2,621.8 1823.5,621.6 1826.9,621.4 1830.3,621.2 1833.6,621.0 1837.0,620.9 1840.3,620.7 1843.7,620.5 1847.0,620.3 1850.4,620.1 1853.8,620.0 1857.1,619.8 1860.5,619.7 1863.8,619.5 1867.2,619.4 1870.5,619.3 1873.9,619.2 1877.3,619.1 1880.6,619.0 1884.0,618.9 1887.3,618.8 1890.7,618.8 1894.1,618.7 1897.4,618.7 1900.8,618.6 1904.1,618.5 1907.5,618.5 1910.8,618.4 1914.2,618.4 1917.6,618.3 1920.9,618.3 1924.3,618.2 1927.6,618.2 1931.0,618.1 1934.3,618.1 1937.7,618.0 1941.1,618.0 1944.4,618.0 1947.8,617.9 1951.1,617.9 1954.5,617.8 1957.9,617.8 1961.2,617.8 1964.6,617.7 1967.9,617.7 1971.3,617.7 1974.6,617.6 1978.0,617.6 1981.4,617.6 1984.7,617.5 1988.1,617.5 1991.4,617.5 1994.8,617.4 1998.1,617.4 2001.5,617.4 2004.9,617.3 2008.2,617.3 2011.6,617.3 2014.9,617.2 2018.3,617.2 2021.7,617.2 2025.0,617.1 2028.4,617.1 2031.7,617.0 2035.1,617.0 2038.4,617.0 2041.8,616.9 2045.2,616.9 2048.5,616.8 2051.9,616.8 2055.2,616.8 2058.6,616.7 2061.9,616.7 2065.3,616.6 2068.7,616.6 2072.0,616.5 2075.4,616.5 2078.7,616.4 2082.1,616.3 2085.5,616.3 2088.8,616.2 2092.2,616.2 2095.5,616.1 2098.9,616.0 2102.2,616.0 2105.6,615.9 2109.0,615.8 2112.3,615.7 2115.7,615.6 2119.0,615.5 2122.4,615.4 2125.7,615.3 2129.1,615.2 2132.5,615.1 2135.8,614.9 2139.2,614.8 2142.5,614.7 2145.9,614.6 2149.3,614.5 2152.6,614.3 2156.0,614.2 2159.3,614.1 2161.9,614.0" fill="none" stroke="none" marker-start="url(#m-red)" marker-mid="url(#m-red)" marker-end="url(#m-red)"/>
<path d="M1479.3,424.6L1479.4,423.6M1482.3,400.7L1483.1,394.1M1485.8,371.3L1486.4,366.5M1542.6,437.8L1543.7,448.8M1546.4,471.7L1546.6,473.6" fill="none" stroke="#4762a9" stroke-width="3.8"/>
<polyline points="1363.5,575.9 1366.9,575.7 1370.2,575.5 1373.6,575.2 1376.9,574.9 1380.3,574.6 1383.6,574.2 1387.0,573.8 1390.4,573.4 1393.7,572.9 1397.1,572.4 1400.4,571.9 1403.8,571.4 1407.2,570.7 1410.5,569.9 1413.9,569.0 1417.2,567.9 1420.6,566.8 1423.9,565.5 1427.3,564.2 1430.7,562.7 1434.0,560.9 1437.4,558.7 1440.7,556.1 1444.1,553.0 1447.4,549.5 1450.8,545.0 1454.2,538.9 1457.5,531.0 1460.9,519.4 1464.2,504.4 1467.6,485.8 1471.0,469.0 1474.3,453.8 1477.7,436.0 1481.0,412.2 1484.4,382.7 1487.7,355.1 1491.1,334.0 1494.5,314.9 1497.8,294.9 1501.2,276.5 1504.5,261.0 1507.9,264.3 1511.2,281.2 1514.6,300.4 1518.0,320.7 1521.3,340.6 1524.7,358.9 1528.0,375.2 1531.4,388.7 1534.8,401.1 1538.1,412.5 1541.5,426.3 1544.8,460.3 1548.2,485.0 1551.5,504.1 1554.9,522.0 1558.3,538.0 1561.6,553.9 1565.0,568.7 1568.3,579.4 1571.7,587.8 1575.0,595.1 1578.4,600.6 1581.8,604.7 1585.1,608.3 1588.5,611.0 1591.8,613.1 1595.2,614.8 1598.6,616.3 1601.9,617.6 1605.3,618.8 1608.6,619.7 1612.0,620.4 1615.3,621.2 1618.7,621.9 1622.1,622.6 1625.4,623.2 1628.8,623.7 1632.1,624.1 1635.5,624.4 1638.8,624.5 1642.2,624.5 1645.6,624.5 1648.9,624.5 1652.3,624.5 1655.6,624.5 1659.0,624.5 1662.4,624.5 1665.7,624.5 1669.1,624.5 1672.4,624.5 1675.8,624.5 1679.1,624.5 1682.5,624.4 1685.9,624.4 1689.2,624.4 1692.6,624.4 1695.9,624.4 1699.3,624.4 1702.6,624.4 1706.0,624.4 1709.4,624.3 1712.7,624.3 1716.1,624.3 1719.4,624.3 1722.8,624.3 1726.2,624.3 1729.5,624.2 1732.9,624.2 1736.2,624.2 1739.6,624.2 1742.9,624.1 1746.3,624.1 1749.7,624.1 1753.0,624.1 1756.4,624.0 1759.7,624.0 1763.1,623.9 1766.5,623.8 1769.8,623.7 1773.2,623.5 1776.5,623.2 1779.9,623.0 1783.2,622.7 1786.6,622.4 1790.0,622.2 1793.3,621.9 1796.7,621.7 1800.0,621.5 1803.4,621.3 1806.7,621.1 1810.1,620.9 1813.5,620.7 1816.8,620.6 1820.2,620.4 1823.5,620.2 1826.9,620.0 1830.3,619.8 1833.6,619.6 1837.0,619.4 1840.3,619.2 1843.7,619.0 1847.0,618.9 1850.4,618.7 1853.8,618.6 1857.1,618.5 1860.5,618.3 1863.8,618.2 1867.2,618.2 1870.5,618.1 1873.9,618.0 1877.3,618.0 1880.6,618.0 1884.0,618.0 1887.3,618.0 1890.7,618.0 1894.1,618.0 1897.4,618.0 1900.8,618.0 1904.1,618.0 1907.5,618.0 1910.8,618.0 1914.2,618.0 1917.6,618.0 1920.9,618.0 1924.3,618.0 1927.6,618.0 1931.0,618.0 1934.3,618.0 1937.7,618.0 1941.1,618.0 1944.4,618.0 1947.8,618.0 1951.1,618.0 1954.5,618.0 1957.9,618.0 1961.2,618.0 1964.6,618.0 1967.9,618.0 1971.3,618.1 1974.6,618.1 1978.0,618.1 1981.4,618.1 1984.7,618.1 1988.1,618.1 1991.4,618.1 1994.8,618.1 1998.1,618.1 2001.5,618.1 2004.9,618.1 2008.2,618.1 2011.6,618.2 2014.9,618.2 2018.3,618.2 2021.7,618.2 2025.0,618.2 2028.4,618.2 2031.7,618.2 2035.1,618.3 2038.4,618.3 2041.8,618.3 2045.2,618.3 2048.5,618.3 2051.9,618.3 2055.2,618.4 2058.6,618.4 2061.9,618.4 2065.3,618.4 2068.7,618.5 2072.0,618.5 2075.4,618.5 2078.7,618.5 2082.1,618.6 2085.5,618.6 2088.8,618.6 2092.2,618.6 2095.5,618.7 2098.9,618.7 2102.2,618.7 2105.6,618.8 2109.0,618.8 2112.3,618.8 2115.7,618.9 2119.0,618.9 2122.4,619.0 2125.7,619.0 2129.1,619.0 2132.5,619.1 2135.8,619.1 2139.2,619.2 2142.5,619.2 2145.9,619.3 2149.3,619.3 2152.6,619.4 2156.0,619.4 2159.3,619.5 2161.9,619.5" fill="none" stroke="none" marker-start="url(#m-blue)" marker-mid="url(#m-blue)" marker-end="url(#m-blue)"/>
<path d="M1506.0,398.4L1506.4,396.0M1509.2,373.1L1509.9,366.6M1542.8,321.2L1543.5,327.2M1545.9,350.1L1547.1,362.0M1549.4,384.9L1550.3,394.0" fill="none" stroke="#4a9c69" stroke-width="3.8"/>
<polyline points="1363.5,579.9 1366.9,579.7 1370.2,579.5 1373.6,579.3 1376.9,579.0 1380.3,578.6 1383.6,578.2 1387.0,577.8 1390.4,577.3 1393.7,576.8 1397.1,576.3 1400.4,575.7 1403.8,575.1 1407.2,574.5 1410.5,573.9 1413.9,573.2 1417.2,572.6 1420.6,571.9 1423.9,571.1 1427.3,570.1 1430.7,569.1 1434.0,567.8 1437.4,566.4 1440.7,564.9 1444.1,563.3 1447.4,561.5 1450.8,559.5 1454.2,557.2 1457.5,554.5 1460.9,551.2 1464.2,547.5 1467.6,543.3 1471.0,538.5 1474.3,532.2 1477.7,524.4 1481.0,515.5 1484.4,506.3 1487.7,496.3 1491.1,474.8 1494.5,456.2 1497.8,445.9 1501.2,429.4 1504.5,409.8 1507.9,384.6 1511.2,355.2 1514.6,334.9 1518.0,318.8 1521.3,304.5 1524.7,292.0 1528.0,282.1 1531.4,275.5 1534.8,280.4 1538.1,292.4 1541.5,309.8 1544.8,338.6 1548.2,373.4 1551.5,405.4 1554.9,428.5 1558.3,446.6 1561.6,468.0 1565.0,491.2 1568.3,506.2 1571.7,522.1 1575.0,536.4 1578.4,549.8 1581.8,563.2 1585.1,572.5 1588.5,580.1 1591.8,587.4 1595.2,593.6 1598.6,598.0 1601.9,601.6 1605.3,604.5 1608.6,607.2 1612.0,609.6 1615.3,611.7 1618.7,613.6 1622.1,615.0 1625.4,616.2 1628.8,617.3 1632.1,618.4 1635.5,619.3 1638.8,620.1 1642.2,620.8 1645.6,621.4 1648.9,621.9 1652.3,622.2 1655.6,622.6 1659.0,622.9 1662.4,623.2 1665.7,623.5 1669.1,623.7 1672.4,624.0 1675.8,624.2 1679.1,624.4 1682.5,624.6 1685.9,624.7 1689.2,624.8 1692.6,624.9 1695.9,625.0 1699.3,625.0 1702.6,625.0 1706.0,625.0 1709.4,625.0 1712.7,625.0 1716.1,625.0 1719.4,624.9 1722.8,624.9 1726.2,624.9 1729.5,624.8 1732.9,624.8 1736.2,624.8 1739.6,624.7 1742.9,624.7 1746.3,624.7 1749.7,624.6 1753.0,624.6 1756.4,624.5 1759.7,624.5 1763.1,624.5 1766.5,624.4 1769.8,624.3 1773.2,624.3 1776.5,624.2 1779.9,624.1 1783.2,624.0 1786.6,623.9 1790.0,623.8 1793.3,623.7 1796.7,623.6 1800.0,623.5 1803.4,623.4 1806.7,623.2 1810.1,623.1 1813.5,623.0 1816.8,622.9 1820.2,622.7 1823.5,622.6 1826.9,622.5 1830.3,622.4 1833.6,622.2 1837.0,622.1 1840.3,622.0 1843.7,621.9 1847.0,621.8 1850.4,621.7 1853.8,621.6 1857.1,621.5 1860.5,621.4 1863.8,621.3 1867.2,621.2 1870.5,621.2 1873.9,621.1 1877.3,621.0 1880.6,621.0 1884.0,621.0 1887.3,620.9 1890.7,620.9 1894.1,620.8 1897.4,620.8 1900.8,620.7 1904.1,620.7 1907.5,620.7 1910.8,620.6 1914.2,620.6 1917.6,620.6 1920.9,620.5 1924.3,620.5 1927.6,620.4 1931.0,620.4 1934.3,620.4 1937.7,620.3 1941.1,620.3 1944.4,620.3 1947.8,620.2 1951.1,620.2 1954.5,620.2 1957.9,620.1 1961.2,620.1 1964.6,620.1 1967.9,620.0 1971.3,620.0 1974.6,620.0 1978.0,619.9 1981.4,619.9 1984.7,619.9 1988.1,619.8 1991.4,619.8 1994.8,619.8 1998.1,619.7 2001.5,619.7 2004.9,619.7 2008.2,619.7 2011.6,619.6 2014.9,619.6 2018.3,619.6 2021.7,619.6 2025.0,619.5 2028.4,619.5 2031.7,619.5 2035.1,619.5 2038.4,619.4 2041.8,619.4 2045.2,619.4 2048.5,619.4 2051.9,619.4 2055.2,619.3 2058.6,619.3 2061.9,619.3 2065.3,619.3 2068.7,619.3 2072.0,619.2 2075.4,619.2 2078.7,619.2 2082.1,619.2 2085.5,619.2 2088.8,619.2 2092.2,619.1 2095.5,619.1 2098.9,619.1 2102.2,619.1 2105.6,619.1 2109.0,619.1 2112.3,619.1 2115.7,619.1 2119.0,619.1 2122.4,619.0 2125.7,619.0 2129.1,619.0 2132.5,619.0 2135.8,619.0 2139.2,619.0 2142.5,619.0 2145.9,619.0 2149.3,619.0 2152.6,619.0 2156.0,619.0 2159.3,619.0 2161.9,619.0" fill="none" stroke="none" marker-start="url(#m-green)" marker-mid="url(#m-green)" marker-end="url(#m-green)"/>
<path d="M1482.6,398.0L1482.8,396.9M1519.4,311.0L1519.8,314.0M1522.7,335.8L1523.3,340.7M1546.0,447.2L1547.1,457.9" fill="none" stroke="#9b6eb6" stroke-width="3.8"/>
<polyline points="1363.5,577.8 1366.9,577.6 1370.2,577.4 1373.6,577.1 1376.9,576.7 1380.3,576.2 1383.6,575.8 1387.0,575.3 1390.4,574.7 1393.7,574.1 1397.1,573.5 1400.4,572.9 1403.8,572.2 1407.2,571.4 1410.5,570.5 1413.9,569.3 1417.2,568.1 1420.6,566.6 1423.9,564.9 1427.3,563.0 1430.7,560.9 1434.0,558.2 1437.4,553.7 1440.7,547.9 1444.1,541.4 1447.4,535.0 1450.8,528.9 1454.2,522.4 1457.5,514.7 1460.9,504.9 1464.2,493.9 1467.6,481.7 1471.0,464.4 1474.3,447.7 1477.7,430.9 1481.0,408.9 1484.4,386.1 1487.7,368.4 1491.1,347.2 1494.5,331.1 1497.8,316.5 1501.2,299.6 1504.5,288.3 1507.9,279.0 1511.2,275.6 1514.6,284.5 1518.0,300.1 1521.3,324.9 1524.7,351.6 1528.0,373.6 1531.4,386.6 1534.8,397.2 1538.1,406.9 1541.5,414.9 1544.8,436.3 1548.2,468.9 1551.5,490.6 1554.9,512.8 1558.3,532.3 1561.6,546.4 1565.0,560.6 1568.3,574.2 1571.7,584.9 1575.0,593.4 1578.4,600.5 1581.8,605.7 1585.1,609.4 1588.5,612.4 1591.8,614.8 1595.2,616.7 1598.6,618.0 1601.9,619.1 1605.3,620.1 1608.6,621.0 1612.0,621.8 1615.3,622.4 1618.7,622.9 1622.1,623.2 1625.4,623.6 1628.8,623.9 1632.1,624.2 1635.5,624.4 1638.8,624.7 1642.2,624.8 1645.6,624.9 1648.9,625.0 1652.3,625.0 1655.6,625.0 1659.0,625.0 1662.4,625.0 1665.7,625.0 1669.1,625.0 1672.4,625.0 1675.8,624.9 1679.1,624.9 1682.5,624.9 1685.9,624.9 1689.2,624.9 1692.6,624.8 1695.9,624.8 1699.3,624.8 1702.6,624.7 1706.0,624.7 1709.4,624.7 1712.7,624.6 1716.1,624.6 1719.4,624.6 1722.8,624.5 1726.2,624.5 1729.5,624.4 1732.9,624.4 1736.2,624.4 1739.6,624.3 1742.9,624.3 1746.3,624.2 1749.7,624.2 1753.0,624.1 1756.4,624.1 1759.7,624.0 1763.1,623.9 1766.5,623.9 1769.8,623.8 1773.2,623.6 1776.5,623.5 1779.9,623.4 1783.2,623.2 1786.6,623.1 1790.0,622.9 1793.3,622.8 1796.7,622.6 1800.0,622.5 1803.4,622.3 1806.7,622.2 1810.1,622.0 1813.5,621.8 1816.8,621.6 1820.2,621.4 1823.5,621.2 1826.9,620.9 1830.3,620.7 1833.6,620.5 1837.0,620.3 1840.3,620.1 1843.7,619.8 1847.0,619.6 1850.4,619.4 1853.8,619.3 1857.1,619.1 1860.5,618.9 1863.8,618.8 1867.2,618.7 1870.5,618.6 1873.9,618.5 1877.3,618.5 1880.6,618.5 1884.0,618.5 1887.3,618.5 1890.7,618.5 1894.1,618.5 1897.4,618.5 1900.8,618.5 1904.1,618.5 1907.5,618.5 1910.8,618.5 1914.2,618.5 1917.6,618.5 1920.9,618.5 1924.3,618.5 1927.6,618.5 1931.0,618.5 1934.3,618.5 1937.7,618.5 1941.1,618.5 1944.4,618.5 1947.8,618.5 1951.1,618.5 1954.5,618.5 1957.9,618.5 1961.2,618.5 1964.6,618.5 1967.9,618.5 1971.3,618.6 1974.6,618.6 1978.0,618.6 1981.4,618.6 1984.7,618.6 1988.1,618.6 1991.4,618.6 1994.8,618.6 1998.1,618.6 2001.5,618.6 2004.9,618.6 2008.2,618.6 2011.6,618.7 2014.9,618.7 2018.3,618.7 2021.7,618.7 2025.0,618.7 2028.4,618.7 2031.7,618.7 2035.1,618.8 2038.4,618.8 2041.8,618.8 2045.2,618.8 2048.5,618.8 2051.9,618.8 2055.2,618.9 2058.6,618.9 2061.9,618.9 2065.3,618.9 2068.7,619.0 2072.0,619.0 2075.4,619.0 2078.7,619.0 2082.1,619.1 2085.5,619.1 2088.8,619.1 2092.2,619.1 2095.5,619.2 2098.9,619.2 2102.2,619.2 2105.6,619.3 2109.0,619.3 2112.3,619.3 2115.7,619.4 2119.0,619.4 2122.4,619.5 2125.7,619.5 2129.1,619.5 2132.5,619.6 2135.8,619.6 2139.2,619.7 2142.5,619.7 2145.9,619.8 2149.3,619.8 2152.6,619.9 2156.0,619.9 2159.3,620.0 2161.9,620.0" fill="none" stroke="none" marker-start="url(#m-purple)" marker-mid="url(#m-purple)" marker-end="url(#m-purple)"/>
<path d="M1495.3,509.9L1495.5,511.3M1498.4,534.1L1499.0,538.8" fill="none" stroke="#c08f31" stroke-width="3.8"/>
<polyline points="1366.1,573.7 1369.5,573.4 1372.8,573.0 1376.2,572.6 1379.5,572.2 1382.9,571.8 1386.2,571.4 1389.6,570.9 1393.0,570.5 1396.3,570.0 1399.7,569.5 1403.0,569.0 1406.4,568.4 1409.8,567.9 1413.1,567.3 1416.5,566.6 1419.8,566.0 1423.2,565.2 1426.5,564.5 1429.9,563.7 1433.3,562.8 1436.6,561.9 1440.0,560.7 1443.3,559.2 1446.7,557.0 1450.0,553.9 1453.4,550.1 1456.8,544.8 1460.1,537.3 1463.5,522.6 1466.8,506.9 1470.2,491.2 1473.6,475.6 1476.9,456.9 1480.3,453.7 1483.6,460.7 1487.0,473.4 1490.3,485.4 1493.7,498.5 1497.1,522.7 1500.4,550.2 1503.8,563.6 1507.1,572.5 1510.5,578.8 1513.8,583.8 1517.2,587.9 1520.6,591.5 1523.9,594.6 1527.3,597.4 1530.6,600.0 1534.0,602.5 1537.4,604.8 1540.7,606.8 1544.1,608.6 1547.4,610.2 1550.8,611.7 1554.1,613.1 1557.5,614.3 1560.9,615.5 1564.2,616.6 1567.6,617.7 1570.9,618.7 1574.3,619.8 1577.6,621.0 1581.0,622.1 1584.4,623.1 1587.7,623.9 1591.1,624.6 1594.4,624.9 1597.8,625.0 1601.2,625.1 1604.5,625.2 1607.9,625.2 1611.2,625.3 1614.6,625.3 1617.9,625.4 1621.3,625.4 1624.7,625.4 1628.0,625.5 1631.4,625.5 1634.7,625.5 1638.1,625.5 1641.4,625.5 1644.8,625.5 1648.2,625.5 1651.5,625.5 1654.9,625.5 1658.2,625.5 1661.6,625.5 1665.0,625.5 1668.3,625.5 1671.7,625.5 1675.0,625.5 1678.4,625.5 1681.7,625.5 1685.1,625.5 1688.5,625.5 1691.8,625.5 1695.2,625.5 1698.5,625.5 1701.9,625.5 1705.2,625.5 1708.6,625.5 1712.0,625.5 1715.3,625.5 1718.7,625.5 1722.0,625.5 1725.4,625.5 1728.8,625.5 1732.1,625.5 1735.5,625.5 1738.8,625.5 1742.2,625.5 1745.5,625.5 1748.9,625.5 1752.3,625.5 1755.6,625.5 1759.0,625.5 1762.3,625.5 1765.7,625.5 1769.0,625.5 1772.4,625.4 1775.8,625.4 1779.1,625.3 1782.5,625.2 1785.8,625.2 1789.2,625.1 1792.6,625.0 1795.9,624.9 1799.3,624.8 1802.6,624.7 1806.0,624.6 1809.3,624.5 1812.7,624.4 1816.1,624.2 1819.4,624.1 1822.8,624.0 1826.1,623.9 1829.5,623.8 1832.9,623.6 1836.2,623.5 1839.6,623.4 1842.9,623.3 1846.3,623.2 1849.6,623.1 1853.0,623.0 1856.4,622.9 1859.7,622.8 1863.1,622.7 1866.4,622.7 1869.8,622.6 1873.1,622.6 1876.5,622.5 1879.9,622.5 1883.2,622.5 1886.6,622.5 1889.9,622.4 1893.3,622.4 1896.7,622.4 1900.0,622.4 1903.4,622.3 1906.7,622.3 1910.1,622.3 1913.4,622.3 1916.8,622.3 1920.2,622.2 1923.5,622.2 1926.9,622.2 1930.2,622.2 1933.6,622.2 1936.9,622.1 1940.3,622.1 1943.7,622.1 1947.0,622.1 1950.4,622.1 1953.7,622.1 1957.1,622.0 1960.5,622.0 1963.8,622.0 1967.2,622.0 1970.5,622.0 1973.9,622.0 1977.2,621.9 1980.6,621.9 1984.0,621.9 1987.3,621.9 1990.7,621.9 1994.0,621.9 1997.4,621.8 2000.7,621.8 2004.1,621.8 2007.5,621.8 2010.8,621.8 2014.2,621.8 2017.5,621.8 2020.9,621.8 2024.3,621.7 2027.6,621.7 2031.0,621.7 2034.3,621.7 2037.7,621.7 2041.0,621.7 2044.4,621.7 2047.8,621.7 2051.1,621.7 2054.5,621.6 2057.8,621.6 2061.2,621.6 2064.5,621.6 2067.9,621.6 2071.3,621.6 2074.6,621.6 2078.0,621.6 2081.3,621.6 2084.7,621.6 2088.1,621.6 2091.4,621.6 2094.8,621.6 2098.1,621.6 2101.5,621.5 2104.8,621.5 2108.2,621.5 2111.6,621.5 2114.9,621.5 2118.3,621.5 2121.6,621.5 2125.0,621.5 2128.3,621.5 2131.7,621.5 2135.1,621.5 2138.4,621.5 2141.8,621.5 2145.1,621.5 2148.5,621.5 2151.9,621.5 2155.2,621.5 2158.6,621.5 2161.9,621.5" fill="none" stroke="none" marker-start="url(#m-gold)" marker-mid="url(#m-gold)" marker-end="url(#m-gold)"/>
<path d="M1501.8,406.9L1501.8,405.9" fill="none" stroke="#53baab" stroke-width="3.8"/>
<polyline points="1361.5,587.7 1364.9,587.3 1368.2,586.9 1371.6,586.4 1374.9,585.9 1378.3,585.4 1381.6,584.9 1385.0,584.3 1388.4,583.7 1391.7,583.1 1395.1,582.5 1398.4,581.9 1401.8,581.2 1405.2,580.5 1408.5,579.8 1411.9,579.0 1415.2,578.2 1418.6,577.4 1421.9,576.5 1425.3,575.6 1428.7,574.6 1432.0,573.5 1435.4,572.3 1438.7,571.1 1442.1,569.7 1445.4,568.4 1448.8,567.0 1452.2,565.5 1455.5,563.8 1458.9,561.7 1462.2,558.9 1465.6,555.0 1469.0,549.9 1472.3,542.2 1475.7,531.1 1479.0,519.4 1482.4,506.5 1485.7,492.6 1489.1,477.5 1492.5,461.6 1494.2,453.4 1495.9,445.4 1497.6,438.3 1499.3,430.4 1501.0,418.4 1502.7,394.4 1504.4,374.1 1506.1,362.2 1507.8,351.7 1509.5,343.9 1511.2,337.6 1512.9,333.3 1514.6,329.8 1516.3,326.7 1518.0,324.2 1519.7,322.6 1521.4,322.0 1523.1,322.6 1524.8,324.3 1526.5,326.8 1528.2,330.0 1529.9,333.7 1531.6,340.0 1533.3,348.8 1535.0,355.4 1536.7,360.6 1538.4,365.6 1540.1,371.3 1541.8,378.7 1543.5,387.8 1545.2,398.1 1546.9,410.7 1548.6,432.1 1550.3,452.1 1552.0,463.1 1553.7,472.1 1555.4,481.5 1557.1,490.4 1558.8,499.4 1560.5,508.7 1562.2,517.9 1563.9,526.0 1565.6,533.5 1567.3,540.5 1569.0,546.9 1570.7,552.8 1572.4,558.3 1574.1,563.5 1575.8,568.7 1577.5,573.9 1579.2,578.9 1580.9,583.5 1582.6,587.4 1584.3,591.0 1586.0,594.3 1587.7,597.3 1589.4,599.8 1591.1,602.0 1592.8,604.0 1594.5,605.8 1596.2,607.5 1597.9,609.0 1599.6,610.3 1601.3,611.5 1604.6,613.5 1608.0,615.2 1611.3,616.7 1614.7,618.0 1618.0,619.1 1621.4,620.1 1624.8,621.1 1628.1,622.0 1631.5,622.8 1634.8,623.4 1638.2,623.7 1641.6,623.8 1644.9,623.9 1648.3,624.0 1651.6,624.1 1655.0,624.1 1658.3,624.2 1661.7,624.2 1665.1,624.3 1668.4,624.3 1671.8,624.4 1675.1,624.4 1678.5,624.4 1681.8,624.4 1685.2,624.5 1688.6,624.5 1691.9,624.5 1695.3,624.5 1698.6,624.5 1702.0,624.5 1705.4,624.5 1708.7,624.5 1712.1,624.5 1715.4,624.5 1718.8,624.5 1722.1,624.5 1725.5,624.5 1728.9,624.5 1732.2,624.5 1735.6,624.5 1738.9,624.5 1742.3,624.4 1745.6,624.4 1749.0,624.4 1752.4,624.4 1755.7,624.4 1759.1,624.4 1762.4,624.4 1765.8,624.4 1769.2,624.3 1772.5,624.3 1775.9,624.3 1779.2,624.2 1782.6,624.1 1785.9,624.1 1789.3,624.0 1792.7,623.9 1796.0,623.8 1799.4,623.7 1802.7,623.6 1806.1,623.5 1809.4,623.4 1812.8,623.3 1816.2,623.2 1819.5,623.1 1822.9,623.0 1826.2,622.9 1829.6,622.8 1833.0,622.7 1836.3,622.6 1839.7,622.5 1843.0,622.4 1846.4,622.3 1849.7,622.2 1853.1,622.1 1856.5,622.0 1859.8,621.9 1863.2,621.9 1866.5,621.8 1869.9,621.7 1873.2,621.7 1876.6,621.6 1880.0,621.6 1883.3,621.6 1886.7,621.5 1890.0,621.5 1893.4,621.5 1896.8,621.4 1900.1,621.4 1903.5,621.4 1906.8,621.3 1910.2,621.3 1913.5,621.3 1916.9,621.2 1920.3,621.2 1923.6,621.2 1927.0,621.2 1930.3,621.1 1933.7,621.1 1937.1,621.1 1940.4,621.0 1943.8,621.0 1947.1,621.0 1950.5,621.0 1953.8,620.9 1957.2,620.9 1960.6,620.9 1963.9,620.8 1967.3,620.8 1970.6,620.8 1974.0,620.8 1977.3,620.7 1980.7,620.7 1984.1,620.7 1987.4,620.7 1990.8,620.6 1994.1,620.6 1997.5,620.6 2000.9,620.6 2004.2,620.6 2007.6,620.5 2010.9,620.5 2014.3,620.5 2017.6,620.5 2021.0,620.4 2024.4,620.4 2027.7,620.4 2031.1,620.4 2034.4,620.4 2037.8,620.4 2041.1,620.3 2044.5,620.3 2047.9,620.3 2051.2,620.3 2054.6,620.3 2057.9,620.3 2061.3,620.2 2064.7,620.2 2068.0,620.2 2071.4,620.2 2074.7,620.2 2078.1,620.2 2081.4,620.2 2084.8,620.1 2088.2,620.1 2091.5,620.1 2094.9,620.1 2098.2,620.1 2101.6,620.1 2104.9,620.1 2108.3,620.1 2111.7,620.1 2115.0,620.1 2118.4,620.0 2121.7,620.0 2125.1,620.0 2128.5,620.0 2131.8,620.0 2135.2,620.0 2138.5,620.0 2141.9,620.0 2145.2,620.0 2148.6,620.0 2152.0,620.0 2155.3,620.0 2158.7,620.0" fill="none" stroke="none" marker-start="url(#m-teal)" marker-mid="url(#m-teal)" marker-end="url(#m-teal)"/>
</g>
<text transform="translate(1340.5,49.9) scale(0.9538,1)" font-size="65" text-anchor="end">600</text>
<text transform="translate(1340.5,233.0) scale(0.9538,1)" font-size="65" text-anchor="end">400</text>
<text transform="translate(1340.5,415.0) scale(0.9538,1)" font-size="65" text-anchor="end">200</text>
<text transform="translate(1340.5,601.1) scale(0.9538,1)" font-size="65" text-anchor="end">0</text>
<text transform="translate(1358.9,733.0) scale(0.9538,1)" font-size="65" text-anchor="middle">40</text>
<text transform="translate(1493.7,733.0) scale(0.9538,1)" font-size="65" text-anchor="middle">60</text>
<text transform="translate(1628.3,733.0) scale(0.9538,1)" font-size="65" text-anchor="middle">80</text>
<text transform="translate(1755.1,733.0) scale(0.9538,1)" font-size="65" text-anchor="middle">100</text>
<text transform="translate(1889.0,733.0) scale(0.9538,1)" font-size="65" text-anchor="middle">120</text>
<text transform="translate(2022.7,733.0) scale(0.9538,1)" font-size="65" text-anchor="middle">140</text>
<text transform="translate(2159.0,733.0) scale(0.9538,1)" font-size="65" text-anchor="middle">160</text>
<text x="1757.2" y="808.3" font-size="62" text-anchor="middle">温度/℃</text>
<text transform="translate(1759.0,894.5) scale(1.000,1)" font-size="62" text-anchor="middle">(b) 损耗模量</text>
<text transform="translate(1207.0,355.6) rotate(-90) scale(1.000,1)" font-size="62" text-anchor="middle">损耗模量/MPa</text>
<path d="M1618.0,215.0 H1691.8" stroke="#5a4f4d" stroke-width="4" fill="none"/>
<g transform="translate(1654.9,215.0)" fill="#5a4f4d" stroke="#5a4f4d" stroke-width="2" stroke-linejoin="round"><rect x="-6.3" y="-6.3" width="12.6" height="12.6"/></g>
<text x="1702.4" y="227.9" font-size="48" textLength="191.0" lengthAdjust="spacingAndGlyphs">Pure PLA</text>
<path d="M1618.0,257.8 H1691.8" stroke="#e2434a" stroke-width="4" fill="none"/>
<g transform="translate(1654.9,257.8)" fill="#e2434a" stroke="#e2434a" stroke-width="2" stroke-linejoin="round"><circle r="8.7"/></g>
<text x="1702.4" y="272.2" font-size="48" textLength="168.5" lengthAdjust="spacingAndGlyphs">PLA/LM</text>
<path d="M1618.0,300.6 H1691.8" stroke="#4762a9" stroke-width="4" fill="none"/>
<g transform="translate(1654.9,300.6)" fill="#4762a9" stroke="#4762a9" stroke-width="2" stroke-linejoin="round"><path d="M0,-11.6 L10.05,5.8 L-10.05,5.8Z"/></g>
<text x="1702.4" y="316.6" font-size="48" textLength="425.5" lengthAdjust="spacingAndGlyphs">PLA/LM/9ESO/1TOA</text>
<path d="M1618.0,343.5 H1691.8" stroke="#4a9c69" stroke-width="4" fill="none"/>
<g transform="translate(1654.9,343.5)" fill="#4a9c69" stroke="#4a9c69" stroke-width="2" stroke-linejoin="round"><path d="M0,11.6 L10.05,-5.8 L-10.05,-5.8Z"/></g>
<text x="1702.4" y="360.9" font-size="48" textLength="425.5" lengthAdjust="spacingAndGlyphs">PLA/LM/7ESO/3TOA</text>
<path d="M1618.0,386.3 H1691.8" stroke="#9b6eb6" stroke-width="4" fill="none"/>
<g transform="translate(1654.9,386.3)" fill="#9b6eb6" stroke="#9b6eb6" stroke-width="2" stroke-linejoin="round"><path d="M0,-10.3 L9,0 L0,10.3 L-9,0Z"/></g>
<text x="1702.4" y="405.2" font-size="48" textLength="425.5" lengthAdjust="spacingAndGlyphs">PLA/LM/5ESO/5TOA</text>
<path d="M1618.0,429.1 H1654.9 M1664.5,429.1 H1691.8" stroke="#c08f31" stroke-width="4" fill="none"/>
<g transform="translate(1654.9,429.1)" fill="#c08f31" stroke="#c08f31" stroke-width="2" stroke-linejoin="round"><path d="M-11.6,0 L5.8,-10.05 L5.8,10.05Z"/></g>
<text x="1702.4" y="449.5" font-size="48" textLength="425.5" lengthAdjust="spacingAndGlyphs">PLA/LM/3ESO/7TOA</text>
<path d="M1618.0,471.9 H1645.3 M1654.9,471.9 H1691.8" stroke="#53baab" stroke-width="4" fill="none"/>
<g transform="translate(1654.9,471.9)" fill="#53baab" stroke="#53baab" stroke-width="2" stroke-linejoin="round"><path d="M11.6,0 L-5.8,-10.05 L-5.8,10.05Z"/></g>
<text x="1702.4" y="493.9" font-size="48" textLength="425.5" lengthAdjust="spacingAndGlyphs">PLA/LM/1ESO/9TOA</text>
<g stroke="#111" stroke-width="4" fill="none" stroke-linecap="butt">
<path d="M2458.0,23.9 V675.9 H3292.0"/>
<path d="M2458.0,25.9 h12.9"/>
<path d="M2458.0,144.1 h12.9"/>
<path d="M2458.0,262.4 h12.9"/>
<path d="M2458.0,380.6 h12.9"/>
<path d="M2458.0,498.9 h12.9"/>
<path d="M2458.0,617.1 h12.9"/>
<path d="M2596.7,675.9 v-13.0"/>
<path d="M2735.3,675.9 v-13.0"/>
<path d="M2874.0,675.9 v-13.0"/>
<path d="M3012.7,675.9 v-13.0"/>
<path d="M3151.3,675.9 v-13.0"/>
<path d="M3290.0,675.9 v-13.0"/>
</g>
<g>
<path d="M2636.1,413.4L2637.0,406.0M2639.3,386.6L2640.7,372.5M2642.7,353.0L2644.2,337.3M2645.8,317.7L2648.1,278.1M2649.3,258.5L2651.5,225.7M2653.1,206.2L2654.6,191.0M2656.7,171.5L2657.9,160.8M2677.9,155.0L2678.4,157.8M2681.1,177.2L2682.1,185.0M2684.6,204.4L2685.6,212.2" fill="none" stroke="#5a4f4d" stroke-width="3.8"/>
<polyline points="2458.0,611.0 2461.5,611.0 2464.9,611.0 2468.4,610.9 2471.9,610.9 2475.3,610.8 2478.8,610.8 2482.3,610.7 2485.7,610.6 2489.2,610.5 2492.7,610.3 2496.1,610.2 2499.6,610.1 2503.1,609.9 2506.5,609.7 2510.0,609.6 2513.5,609.4 2516.9,609.2 2520.4,609.0 2523.9,608.7 2527.3,608.2 2530.8,607.7 2534.3,607.0 2537.7,606.2 2541.2,605.4 2544.7,604.5 2548.1,603.5 2551.6,602.5 2555.1,601.5 2558.5,600.3 2562.0,599.0 2565.5,597.5 2568.9,595.7 2572.4,593.7 2575.9,591.4 2579.3,588.1 2582.8,583.7 2586.3,578.5 2589.7,572.7 2593.2,566.5 2596.7,559.4 2600.1,550.8 2603.6,541.4 2607.1,532.2 2610.5,523.3 2614.0,514.0 2617.5,503.5 2620.9,491.4 2624.4,477.6 2627.9,461.5 2631.3,443.2 2634.8,423.1 2638.3,396.3 2641.7,362.8 2645.2,327.5 2648.7,268.3 2652.1,215.9 2655.6,181.2 2659.1,151.1 2662.5,137.1 2666.0,129.3 2669.5,130.4 2672.9,135.6 2676.4,145.3 2679.9,167.5 2683.3,194.7 2686.8,221.9 2690.3,240.0 2693.7,257.0 2697.2,273.7 2700.7,290.3 2704.1,309.6 2707.6,328.3 2711.1,345.4 2714.5,362.9 2718.0,380.0 2721.5,395.0 2724.9,408.5 2728.4,420.6 2731.9,431.9 2735.3,443.1 2738.8,454.1 2742.3,464.9 2745.7,475.4 2749.2,485.5 2752.7,495.7 2756.1,506.0 2759.6,516.0 2763.1,525.2 2766.5,533.4 2770.0,540.0 2773.5,545.5 2776.9,550.3 2780.4,554.6 2783.9,558.3 2787.3,561.4 2790.8,564.0 2794.3,566.3 2797.7,568.3 2801.2,570.1 2804.7,571.7 2808.1,573.3 2811.6,574.8 2815.1,576.1 2818.5,577.1 2822.0,577.5 2825.5,577.8 2828.9,578.0 2832.4,578.2 2835.9,578.3 2839.3,578.3 2842.8,578.3 2846.3,578.3 2849.7,578.3 2853.2,578.3 2856.7,578.3 2860.1,578.1 2863.6,577.8 2867.1,577.3 2870.5,576.9 2874.0,576.4 2877.5,575.7 2880.9,575.0 2884.4,574.3 2887.9,574.0 2891.3,574.1 2894.8,574.4 2898.3,574.9 2901.7,575.4 2905.2,575.8 2908.7,576.0 2912.1,576.0 2915.6,576.0 2919.1,576.0 2922.5,576.0 2926.0,576.0 2929.5,576.0 2932.9,576.0 2936.4,575.9 2939.9,574.6 2943.3,572.5 2946.8,570.1 2950.3,567.8 2953.7,565.6 2957.2,563.4 2960.7,561.8 2964.1,560.5 2967.6,559.6 2971.1,559.4 2974.5,559.8 2978.0,560.3 2981.5,561.5 2984.9,563.5 2988.4,564.9 2991.9,566.2 2995.3,566.5 2998.8,566.0 3002.3,565.6 3005.7,565.5 3009.2,565.7 3012.7,566.0 3016.1,566.6 3019.6,568.2 3023.1,570.3 3026.5,573.0 3030.0,576.0 3033.5,578.9 3036.9,581.5 3040.4,583.3 3043.9,584.7 3047.3,586.2 3050.8,587.7 3054.3,589.1 3057.7,590.4 3061.2,591.3 3064.7,592.1 3068.1,592.9 3071.6,593.5 3075.1,594.1 3078.5,594.4 3082.0,594.6 3085.5,594.7 3088.9,594.9 3092.4,595.0 3095.9,595.1 3099.3,595.2 3102.8,595.3 3106.3,595.4 3109.7,595.4 3113.2,595.5 3116.7,595.6 3120.1,595.6 3123.6,595.7 3127.1,595.7 3130.5,595.8 3134.0,595.8 3137.5,595.9 3140.9,595.9 3144.4,595.9 3147.9,596.0 3151.3,596.0 3154.8,596.1 3158.3,596.1 3161.7,596.1 3165.2,596.2 3168.7,596.2 3172.1,596.2 3175.6,596.3 3179.1,596.3 3182.5,596.4 3186.0,596.4 3189.5,596.4 3192.9,596.5 3196.4,596.5 3199.9,596.5 3203.3,596.6 3206.8,596.6 3210.3,596.6 3213.7,596.6 3217.2,596.7 3220.7,596.7 3224.1,596.7 3227.6,596.8 3231.1,596.8 3234.5,596.8 3238.0,596.8 3241.5,596.8 3244.9,596.9 3248.4,596.9 3251.9,596.9 3255.3,596.9 3258.8,596.9 3262.3,596.9 3265.7,597.0 3269.2,597.0 3272.7,597.0 3276.1,597.0 3279.6,597.0 3283.1,597.0 3286.5,597.0 3290.0,597.0" fill="none" stroke="none" marker-start="url(#m-gray)" marker-mid="url(#m-gray)" marker-end="url(#m-gray)"/>
<path d="M2619.0,413.2L2619.4,410.9M2622.2,392.7L2623.1,386.7M2625.5,368.4L2626.8,357.2M2628.9,338.9L2630.3,326.2M2632.3,307.9L2633.9,292.7M2635.8,274.4L2637.2,261.6M2639.3,243.4L2640.7,232.4M2642.8,214.1L2644.2,201.6M2646.2,183.3L2647.7,169.7M2649.7,151.4L2651.1,139.2M2653.5,121.0L2654.2,116.1M2674.2,120.9L2675.1,127.1M2677.7,145.3L2678.6,151.9M2680.9,170.1L2682.3,181.3M2684.4,199.5L2685.7,210.6M2698.8,283.3L2699.1,284.9M2702.2,303.0L2702.6,306.0" fill="none" stroke="#e2434a" stroke-width="3.8"/>
<polyline points="2458.0,611.0 2461.5,610.8 2464.9,610.6 2468.4,610.3 2471.9,610.0 2475.3,609.6 2478.8,609.2 2482.3,608.8 2485.7,608.4 2489.2,608.0 2492.7,607.5 2496.1,607.0 2499.6,606.6 2503.1,606.1 2506.5,605.5 2510.0,604.9 2513.5,604.3 2516.9,603.6 2520.4,602.9 2523.9,602.0 2527.3,601.2 2530.8,600.2 2534.3,599.2 2537.7,598.0 2541.2,596.5 2544.7,594.8 2548.1,592.4 2551.6,588.6 2555.1,584.0 2558.5,577.8 2562.0,570.3 2565.5,563.0 2568.9,557.2 2572.4,552.1 2575.9,547.3 2579.3,542.1 2582.8,536.0 2586.3,529.1 2589.7,521.3 2593.2,512.3 2596.7,501.1 2600.1,489.4 2603.6,477.5 2607.1,466.0 2610.5,453.5 2614.0,439.6 2617.5,422.2 2620.9,401.8 2624.4,377.6 2627.9,348.1 2631.3,317.1 2634.8,283.6 2638.3,252.5 2641.7,223.2 2645.2,192.5 2648.7,160.6 2652.1,130.1 2655.6,107.0 2659.1,94.9 2662.5,88.5 2666.0,87.9 2669.5,95.3 2672.9,111.8 2676.4,136.2 2679.9,161.0 2683.3,190.4 2686.8,219.7 2690.3,237.1 2693.7,255.4 2697.2,274.2 2700.7,293.9 2704.1,315.1 2707.6,333.4 2711.1,350.3 2714.5,368.1 2718.0,384.5 2721.5,399.2 2724.9,411.8 2728.4,422.9 2731.9,433.4 2735.3,444.2 2738.8,455.3 2742.3,466.3 2745.7,476.5 2749.2,485.8 2752.7,494.6 2756.1,502.8 2759.6,510.3 2763.1,517.0 2766.5,523.2 2770.0,528.9 2773.5,534.1 2776.9,538.7 2780.4,542.8 2783.9,546.6 2787.3,550.1 2790.8,553.1 2794.3,555.6 2797.7,557.5 2801.2,559.4 2804.7,561.0 2808.1,562.5 2811.6,563.8 2815.1,564.9 2818.5,565.7 2822.0,566.3 2825.5,566.9 2828.9,567.4 2832.4,567.9 2835.9,568.4 2839.3,568.8 2842.8,569.1 2846.3,569.4 2849.7,569.7 2853.2,569.9 2856.7,570.0 2860.1,570.0 2863.6,570.0 2867.1,569.9 2870.5,569.8 2874.0,569.7 2877.5,569.6 2880.9,569.4 2884.4,569.2 2887.9,569.0 2891.3,568.7 2894.8,568.4 2898.3,568.1 2901.7,567.8 2905.2,567.3 2908.7,566.5 2912.1,565.6 2915.6,564.6 2919.1,563.5 2922.5,562.4 2926.0,561.3 2929.5,560.2 2932.9,559.0 2936.4,557.4 2939.9,555.8 2943.3,554.4 2946.8,553.3 2950.3,552.8 2953.7,553.2 2957.2,554.5 2960.7,556.3 2964.1,558.2 2967.6,560.4 2971.1,563.1 2974.5,565.8 2978.0,568.0 2981.5,569.5 2984.9,570.6 2988.4,571.8 2991.9,573.6 2995.3,576.0 2998.8,578.5 3002.3,581.4 3005.7,584.3 3009.2,586.4 3012.7,587.8 3016.1,589.0 3019.6,589.9 3023.1,590.7 3026.5,591.4 3030.0,592.0 3033.5,592.6 3036.9,592.9 3040.4,593.0 3043.9,593.0 3047.3,593.0 3050.8,593.0 3054.3,593.0 3057.7,593.0 3061.2,593.0 3064.7,593.0 3068.1,593.0 3071.6,593.0 3075.1,593.0 3078.5,593.0 3082.0,593.0 3085.5,593.0 3088.9,593.0 3092.4,593.0 3095.9,593.0 3099.3,593.0 3102.8,593.0 3106.3,592.9 3109.7,592.9 3113.2,592.9 3116.7,592.9 3120.1,592.9 3123.6,592.9 3127.1,592.8 3130.5,592.8 3134.0,592.8 3137.5,592.7 3140.9,592.7 3144.4,592.7 3147.9,592.7 3151.3,592.6 3154.8,592.6 3158.3,592.5 3161.7,592.5 3165.2,592.5 3168.7,592.4 3172.1,592.4 3175.6,592.3 3179.1,592.3 3182.5,592.2 3186.0,592.2 3189.5,592.1 3192.9,592.1 3196.4,592.0 3199.9,592.0 3203.3,591.9 3206.8,591.8 3210.3,591.8 3213.7,591.7 3217.2,591.6 3220.7,591.6 3224.1,591.5 3227.6,591.4 3231.1,591.4 3234.5,591.3 3238.0,591.2 3241.5,591.2 3244.9,591.1 3248.4,591.0 3251.9,590.9 3255.3,590.8 3258.8,590.8 3262.3,590.7 3265.7,590.6 3269.2,590.5 3272.7,590.4 3276.1,590.3 3279.6,590.3 3283.1,590.2 3286.5,590.1 3290.0,590.0" fill="none" stroke="none" marker-start="url(#m-red)" marker-mid="url(#m-red)" marker-end="url(#m-red)"/>
<path d="M2636.4,399.8L2636.7,398.1M2639.8,375.3L2640.2,371.6" fill="none" stroke="#4762a9" stroke-width="3.8"/>
<polyline points="2458.0,611.0 2461.5,611.0 2464.9,610.9 2468.4,610.8 2471.9,610.7 2475.3,610.6 2478.8,610.4 2482.3,610.3 2485.7,610.1 2489.2,609.8 2492.7,609.6 2496.1,609.4 2499.6,609.1 2503.1,608.9 2506.5,608.6 2510.0,608.3 2513.5,608.0 2516.9,607.8 2520.4,607.5 2523.9,607.1 2527.3,606.8 2530.8,606.3 2534.3,605.8 2537.7,605.3 2541.2,604.8 2544.7,604.3 2548.1,603.8 2551.6,603.2 2555.1,602.5 2558.5,601.8 2562.0,600.9 2565.5,599.8 2568.9,598.4 2572.4,596.3 2575.9,593.7 2579.3,590.6 2582.8,586.6 2586.3,580.8 2589.7,573.6 2593.2,563.6 2596.7,551.4 2600.1,540.3 2603.6,529.6 2607.1,519.3 2610.5,507.9 2614.0,496.7 2617.5,485.2 2620.9,472.5 2624.4,457.9 2627.9,443.5 2631.3,428.4 2634.8,411.2 2638.3,386.8 2641.7,360.2 2645.2,340.5 2648.7,318.4 2652.1,298.5 2655.6,285.7 2659.1,269.3 2662.5,252.7 2666.0,242.6 2669.5,236.5 2672.9,240.6 2676.4,247.8 2679.9,257.4 2683.3,269.2 2686.8,283.4 2690.3,298.1 2693.7,311.4 2697.2,324.4 2700.7,336.9 2704.1,348.8 2707.6,360.6 2711.1,374.1 2714.5,386.0 2718.0,396.5 2721.5,408.6 2724.9,420.1 2728.4,431.2 2731.9,441.1 2735.3,450.4 2738.8,458.6 2742.3,465.7 2745.7,474.7 2749.2,480.6 2752.7,486.2 2756.1,491.6 2759.6,497.1 2763.1,502.5 2766.5,507.8 2770.0,513.0 2773.5,518.2 2776.9,523.3 2780.4,528.0 2783.9,532.2 2787.3,536.1 2790.8,539.9 2794.3,543.3 2797.7,546.3 2801.2,548.8 2804.7,551.2 2808.1,553.4 2811.6,555.4 2815.1,557.2 2818.5,558.8 2822.0,560.0 2825.5,561.1 2828.9,562.1 2832.4,563.0 2835.9,563.9 2839.3,564.6 2842.8,565.2 2846.3,565.7 2849.7,566.0 2853.2,566.2 2856.7,566.4 2860.1,566.5 2863.6,566.7 2867.1,566.8 2870.5,566.9 2874.0,567.0 2877.5,567.0 2880.9,567.0 2884.4,567.0 2887.9,566.9 2891.3,566.7 2894.8,566.6 2898.3,566.4 2901.7,566.3 2905.2,566.1 2908.7,566.0 2912.1,566.0 2915.6,565.9 2919.1,565.9 2922.5,565.8 2926.0,565.8 2929.5,565.7 2932.9,565.7 2936.4,565.7 2939.9,565.8 2943.3,566.0 2946.8,566.5 2950.3,567.5 2953.7,569.1 2957.2,570.8 2960.7,572.6 2964.1,574.3 2967.6,576.0 2971.1,577.7 2974.5,579.5 2978.0,581.0 2981.5,582.4 2984.9,583.8 2988.4,585.2 2991.9,586.4 2995.3,587.6 2998.8,588.7 3002.3,589.5 3005.7,590.1 3009.2,590.5 3012.7,590.9 3016.1,591.2 3019.6,591.5 3023.1,591.8 3026.5,592.1 3030.0,592.3 3033.5,592.5 3036.9,592.7 3040.4,592.8 3043.9,592.9 3047.3,593.0 3050.8,593.0 3054.3,593.0 3057.7,593.0 3061.2,593.0 3064.7,593.0 3068.1,593.0 3071.6,592.9 3075.1,592.9 3078.5,592.9 3082.0,592.9 3085.5,592.9 3088.9,592.8 3092.4,592.8 3095.9,592.8 3099.3,592.7 3102.8,592.7 3106.3,592.6 3109.7,592.6 3113.2,592.6 3116.7,592.5 3120.1,592.5 3123.6,592.4 3127.1,592.4 3130.5,592.3 3134.0,592.3 3137.5,592.2 3140.9,592.2 3144.4,592.1 3147.9,592.0 3151.3,592.0 3154.8,591.9 3158.3,591.8 3161.7,591.6 3165.2,591.5 3168.7,591.3 3172.1,591.1 3175.6,590.9 3179.1,590.7 3182.5,590.5 3186.0,590.2 3189.5,590.0 3192.9,589.8 3196.4,589.6 3199.9,589.4 3203.3,589.2 3206.8,589.0 3210.3,588.8 3213.7,588.7 3217.2,588.6 3220.7,588.5 3224.1,588.4 3227.6,588.3 3231.1,588.3 3234.5,588.2 3238.0,588.1 3241.5,588.0 3244.9,588.0 3248.4,587.9 3251.9,587.9 3255.3,587.8 3258.8,587.7 3262.3,587.7 3265.7,587.7 3269.2,587.6 3272.7,587.6 3276.1,587.6 3279.6,587.5 3283.1,587.5 3286.5,587.5 3290.0,587.5" fill="none" stroke="none" marker-start="url(#m-blue)" marker-mid="url(#m-blue)" marker-end="url(#m-blue)"/>
<polyline points="2458.0,612.0 2461.5,612.0 2464.9,611.9 2468.4,611.9 2471.9,611.8 2475.3,611.7 2478.8,611.6 2482.3,611.5 2485.7,611.4 2489.2,611.3 2492.7,611.2 2496.1,611.1 2499.6,610.9 2503.1,610.8 2506.5,610.6 2510.0,610.5 2513.5,610.3 2516.9,610.1 2520.4,610.0 2523.9,609.8 2527.3,609.6 2530.8,609.4 2534.3,609.2 2537.7,608.9 2541.2,608.7 2544.7,608.4 2548.1,608.1 2551.6,607.8 2555.1,607.5 2558.5,607.2 2562.0,606.8 2565.5,606.5 2568.9,606.1 2572.4,605.7 2575.9,605.4 2579.3,605.1 2582.8,604.7 2586.3,604.2 2589.7,603.7 2593.2,603.1 2596.7,602.2 2600.1,601.2 2603.6,599.1 2607.1,594.3 2610.5,588.4 2614.0,582.4 2617.5,575.2 2620.9,566.5 2624.4,554.6 2627.9,541.4 2631.3,527.5 2634.8,512.1 2638.3,495.3 2641.7,477.9 2645.2,460.6 2648.7,443.2 2652.1,425.0 2655.6,404.4 2659.1,381.3 2662.5,358.1 2666.0,334.9 2669.5,312.2 2672.9,292.0 2676.4,279.5 2679.9,273.5 2683.3,273.5 2686.8,275.7 2690.3,279.4 2693.7,289.7 2697.2,297.9 2700.7,307.4 2704.1,320.8 2707.6,331.0 2711.1,346.6 2714.5,360.9 2718.0,371.6 2721.5,381.6 2724.9,393.0 2728.4,406.8 2731.9,418.8 2735.3,430.4 2738.8,440.6 2742.3,449.3 2745.7,457.0 2749.2,464.5 2752.7,471.6 2756.1,477.9 2759.6,483.5 2763.1,488.8 2766.5,493.6 2770.0,498.5 2773.5,502.9 2776.9,507.3 2780.4,511.5 2783.9,515.0 2787.3,518.3 2790.8,521.4 2794.3,524.8 2797.7,528.6 2801.2,532.9 2804.7,536.7 2808.1,539.8 2811.6,542.7 2815.1,545.3 2818.5,547.6 2822.0,549.6 2825.5,551.2 2828.9,552.6 2832.4,554.0 2835.9,555.2 2839.3,556.3 2842.8,557.2 2846.3,557.8 2849.7,558.0 2853.2,558.0 2856.7,558.0 2860.1,558.0 2863.6,558.0 2867.1,558.0 2870.5,558.0 2874.0,558.0 2877.5,558.0 2880.9,558.0 2884.4,558.1 2887.9,558.2 2891.3,558.4 2894.8,558.7 2898.3,558.9 2901.7,559.3 2905.2,559.6 2908.7,559.9 2912.1,560.2 2915.6,560.5 2919.1,560.8 2922.5,561.1 2926.0,561.6 2929.5,562.1 2932.9,562.7 2936.4,564.0 2939.9,565.6 2943.3,567.3 2946.8,569.1 2950.3,570.8 2953.7,572.5 2957.2,574.3 2960.7,576.0 2964.1,577.5 2967.6,578.9 2971.1,580.2 2974.5,581.4 2978.0,582.3 2981.5,583.1 2984.9,583.9 2988.4,584.6 2991.9,585.4 2995.3,586.2 2998.8,587.2 3002.3,588.2 3005.7,589.2 3009.2,590.1 3012.7,590.9 3016.1,591.5 3019.6,592.0 3023.1,592.3 3026.5,592.6 3030.0,592.8 3033.5,593.1 3036.9,593.4 3040.4,593.6 3043.9,593.8 3047.3,594.0 3050.8,594.2 3054.3,594.4 3057.7,594.5 3061.2,594.7 3064.7,594.8 3068.1,594.9 3071.6,594.9 3075.1,595.0 3078.5,595.0 3082.0,595.0 3085.5,595.0 3088.9,595.0 3092.4,595.0 3095.9,595.0 3099.3,595.0 3102.8,595.0 3106.3,595.0 3109.7,595.0 3113.2,595.0 3116.7,595.0 3120.1,595.0 3123.6,595.0 3127.1,595.0 3130.5,595.0 3134.0,594.9 3137.5,594.9 3140.9,594.9 3144.4,594.9 3147.9,594.9 3151.3,594.9 3154.8,594.9 3158.3,594.8 3161.7,594.8 3165.2,594.8 3168.7,594.8 3172.1,594.7 3175.6,594.7 3179.1,594.7 3182.5,594.6 3186.0,594.6 3189.5,594.6 3192.9,594.5 3196.4,594.5 3199.9,594.4 3203.3,594.4 3206.8,594.3 3210.3,594.3 3213.7,594.2 3217.2,594.2 3220.7,594.1 3224.1,594.0 3227.6,594.0 3231.1,593.9 3234.5,593.8 3238.0,593.7 3241.5,593.6 3244.9,593.5 3248.4,593.4 3251.9,593.3 3255.3,593.2 3258.8,593.1 3262.3,593.0 3265.7,592.9 3269.2,592.8 3272.7,592.7 3276.1,592.5 3279.6,592.4 3283.1,592.3 3286.5,592.1 3290.0,592.0" fill="none" stroke="none" marker-start="url(#m-green)" marker-mid="url(#m-green)" marker-end="url(#m-green)"/>
<path d="M2633.0,434.1L2633.2,432.6M2635.9,410.8L2637.1,399.0" fill="none" stroke="#9b6eb6" stroke-width="3.8"/>
<polyline points="2458.0,611.5 2461.5,611.5 2464.9,611.5 2468.4,611.4 2471.9,611.4 2475.3,611.3 2478.8,611.2 2482.3,611.1 2485.7,610.9 2489.2,610.8 2492.7,610.6 2496.1,610.5 2499.6,610.3 2503.1,610.1 2506.5,609.9 2510.0,609.7 2513.5,609.4 2516.9,609.2 2520.4,609.0 2523.9,608.7 2527.3,608.3 2530.8,607.9 2534.3,607.3 2537.7,606.7 2541.2,606.1 2544.7,605.4 2548.1,604.6 2551.6,603.8 2555.1,603.0 2558.5,602.1 2562.0,601.2 2565.5,600.1 2568.9,598.8 2572.4,597.3 2575.9,595.5 2579.3,593.2 2582.8,589.9 2586.3,583.5 2589.7,576.5 2593.2,568.6 2596.7,559.4 2600.1,547.6 2603.6,536.8 2607.1,529.0 2610.5,521.9 2614.0,513.8 2617.5,504.5 2620.9,494.0 2624.4,481.7 2627.9,465.6 2631.3,445.0 2634.8,421.7 2638.3,388.0 2641.7,365.8 2645.2,346.7 2648.7,331.2 2652.1,318.1 2655.6,305.8 2659.1,293.5 2662.5,282.0 2666.0,271.3 2669.5,260.9 2672.9,253.6 2676.4,255.8 2679.9,261.8 2683.3,269.3 2686.8,277.3 2690.3,285.4 2693.7,294.9 2697.2,305.5 2700.7,316.1 2704.1,329.6 2707.6,344.0 2711.1,359.1 2714.5,374.2 2718.0,388.0 2721.5,402.0 2724.9,415.0 2728.4,426.2 2731.9,435.7 2735.3,444.4 2738.8,452.6 2742.3,460.3 2745.7,467.5 2749.2,474.2 2752.7,480.6 2756.1,486.6 2759.6,492.1 2763.1,497.4 2766.5,502.4 2770.0,507.5 2773.5,512.6 2776.9,517.7 2780.4,522.6 2783.9,527.1 2787.3,531.4 2790.8,535.6 2794.3,539.5 2797.7,543.0 2801.2,546.0 2804.7,548.7 2808.1,551.3 2811.6,553.6 2815.1,555.7 2818.5,557.4 2822.0,558.8 2825.5,560.1 2828.9,561.4 2832.4,562.6 2835.9,563.7 2839.3,564.6 2842.8,565.3 2846.3,565.8 2849.7,566.0 2853.2,566.0 2856.7,565.8 2860.1,565.6 2863.6,565.3 2867.1,564.9 2870.5,564.4 2874.0,563.9 2877.5,563.4 2880.9,562.8 2884.4,561.7 2887.9,560.3 2891.3,559.0 2894.8,558.0 2898.3,557.5 2901.7,557.1 2905.2,557.0 2908.7,557.6 2912.1,558.8 2915.6,560.3 2919.1,562.2 2922.5,564.7 2926.0,567.2 2929.5,569.9 2932.9,572.8 2936.4,575.6 2939.9,578.4 2943.3,581.1 2946.8,583.8 2950.3,586.3 2953.7,588.2 2957.2,589.6 2960.7,590.8 2964.1,591.8 2967.6,592.7 2971.1,593.5 2974.5,594.0 2978.0,594.3 2981.5,594.6 2984.9,594.9 2988.4,595.2 2991.9,595.5 2995.3,595.7 2998.8,595.9 3002.3,596.1 3005.7,596.2 3009.2,596.3 3012.7,596.4 3016.1,596.5 3019.6,596.5 3023.1,596.5 3026.5,596.5 3030.0,596.5 3033.5,596.5 3036.9,596.4 3040.4,596.4 3043.9,596.4 3047.3,596.4 3050.8,596.3 3054.3,596.3 3057.7,596.3 3061.2,596.2 3064.7,596.2 3068.1,596.1 3071.6,596.1 3075.1,596.1 3078.5,596.0 3082.0,596.0 3085.5,595.9 3088.9,595.9 3092.4,595.8 3095.9,595.7 3099.3,595.6 3102.8,595.6 3106.3,595.5 3109.7,595.4 3113.2,595.3 3116.7,595.2 3120.1,595.1 3123.6,595.0 3127.1,594.8 3130.5,594.7 3134.0,594.6 3137.5,594.5 3140.9,594.3 3144.4,594.2 3147.9,594.1 3151.3,593.9 3154.8,593.8 3158.3,593.6 3161.7,593.4 3165.2,593.2 3168.7,593.0 3172.1,592.8 3175.6,592.5 3179.1,592.3 3182.5,592.0 3186.0,591.8 3189.5,591.6 3192.9,591.3 3196.4,591.1 3199.9,590.9 3203.3,590.7 3206.8,590.5 3210.3,590.3 3213.7,590.2 3217.2,590.1 3220.7,590.0 3224.1,589.9 3227.6,589.8 3231.1,589.8 3234.5,589.7 3238.0,589.6 3241.5,589.5 3244.9,589.5 3248.4,589.4 3251.9,589.3 3255.3,589.3 3258.8,589.2 3262.3,589.2 3265.7,589.1 3269.2,589.1 3272.7,589.1 3276.1,589.0 3279.6,589.0 3283.1,589.0 3286.5,589.0 3290.0,589.0" fill="none" stroke="none" marker-start="url(#m-purple)" marker-mid="url(#m-purple)" marker-end="url(#m-purple)"/>
<path d="M2574.1,565.2L2574.2,564.1M2577.3,541.3L2577.9,537.0M2580.4,514.1L2581.7,499.3M2583.6,476.3L2585.5,449.8M2587.1,426.8L2588.9,401.9M2590.7,379.0L2592.2,361.8M2594.3,338.9L2595.5,326.5M2598.0,303.6L2598.8,297.5M2601.8,274.7L2602.0,273.2" fill="none" stroke="#c08f31" stroke-width="3.8"/>
<polyline points="2458.0,610.0 2461.5,610.0 2464.9,610.0 2468.4,609.9 2471.9,609.9 2475.3,609.8 2478.8,609.8 2482.3,609.7 2485.7,609.6 2489.2,609.5 2492.7,609.4 2496.1,609.2 2499.6,609.1 2503.1,608.9 2506.5,608.8 2510.0,608.6 2513.5,608.4 2516.9,608.2 2520.4,608.0 2523.9,607.6 2527.3,607.2 2530.8,606.5 2534.3,605.7 2537.7,604.7 2541.2,603.6 2544.7,602.4 2548.1,601.0 2551.6,599.6 2555.1,598.0 2558.5,596.3 2562.0,594.1 2565.5,591.0 2568.9,586.4 2572.4,576.6 2575.9,552.8 2579.3,525.6 2582.8,487.8 2586.3,438.3 2589.7,390.4 2593.2,350.3 2596.7,315.0 2600.1,286.1 2603.6,261.8 2607.1,243.0 2610.5,232.5 2614.0,228.3 2617.5,226.5 2620.9,226.1 2624.4,226.9 2627.9,228.5 2630.5,230.5 2633.1,233.4 2635.7,237.6 2638.3,242.6 2640.9,248.9 2643.5,256.5 2646.1,265.6 2648.7,275.3 2651.3,284.3 2653.9,293.1 2656.5,301.8 2659.1,310.7 2661.7,319.8 2664.3,329.0 2666.9,338.0 2669.5,346.7 2672.1,355.4 2674.7,364.3 2677.3,373.5 2679.9,382.8 2682.5,391.8 2685.1,400.9 2687.7,411.1 2690.3,422.5 2692.9,430.1 2695.5,436.2 2698.1,441.8 2700.7,447.7 2704.1,455.6 2707.6,463.0 2711.1,469.5 2714.5,475.4 2718.0,481.0 2721.5,486.2 2724.9,491.2 2728.4,496.0 2731.9,500.7 2735.3,505.3 2738.8,509.7 2742.3,513.9 2745.7,518.0 2749.2,522.1 2752.7,526.3 2756.1,531.0 2759.6,535.2 2763.1,537.4 2766.5,538.1 2770.0,538.6 2773.5,538.9 2776.9,539.2 2780.4,539.4 2783.9,539.8 2787.3,540.5 2790.8,541.7 2794.3,543.5 2797.7,545.7 2801.2,547.6 2804.7,549.1 2808.1,550.2 2811.6,551.1 2815.1,552.0 2818.5,552.7 2822.0,553.3 2825.5,553.8 2828.9,554.2 2832.4,554.6 2835.9,554.8 2839.3,554.9 2842.8,554.9 2846.3,554.9 2849.7,554.9 2853.2,554.9 2856.7,554.9 2860.1,555.1 2863.6,555.5 2867.1,556.1 2870.5,556.9 2874.0,558.1 2877.5,560.8 2880.9,564.0 2884.4,566.6 2887.9,569.0 2891.3,571.1 2894.8,572.9 2898.3,574.6 2901.7,576.2 2905.2,578.0 2908.7,579.8 2912.1,581.7 2915.6,583.5 2919.1,584.8 2922.5,585.9 2926.0,586.9 2929.5,587.7 2932.9,588.2 2936.4,588.5 2939.9,588.8 2943.3,589.0 2946.8,589.2 2950.3,589.5 2953.7,589.8 2957.2,590.1 2960.7,590.4 2964.1,590.7 2967.6,591.0 2971.1,591.3 2974.5,591.5 2978.0,591.7 2981.5,591.9 2984.9,592.0 2988.4,592.2 2991.9,592.3 2995.3,592.4 2998.8,592.5 3002.3,592.5 3005.7,592.5 3009.2,592.5 3012.7,592.5 3016.1,592.5 3019.6,592.5 3023.1,592.5 3026.5,592.5 3030.0,592.5 3033.5,592.5 3036.9,592.3 3040.4,592.1 3043.9,591.9 3047.3,591.6 3050.8,591.1 3054.3,590.3 3057.7,589.5 3061.2,588.8 3064.7,588.2 3068.1,587.6 3071.6,587.1 3075.1,586.7 3078.5,586.2 3082.0,585.8 3085.5,585.5 3088.9,585.2 3092.4,585.0 3095.9,585.0 3099.3,585.0 3102.8,585.1 3106.3,585.1 3109.7,585.2 3113.2,585.3 3116.7,585.4 3120.1,585.6 3123.6,585.7 3127.1,585.9 3130.5,586.0 3134.0,586.3 3137.5,586.7 3140.9,587.2 3144.4,587.8 3147.9,588.4 3151.3,589.1 3154.8,589.8 3158.3,590.4 3161.7,591.0 3165.2,591.5 3168.7,591.9 3172.1,592.2 3175.6,592.4 3179.1,592.7 3182.5,592.9 3186.0,593.2 3189.5,593.4 3192.9,593.7 3196.4,593.9 3199.9,594.1 3203.3,594.3 3206.8,594.4 3210.3,594.6 3213.7,594.7 3217.2,594.8 3220.7,594.9 3224.1,595.0 3227.6,595.0 3231.1,595.0 3234.5,595.0 3238.0,594.9 3241.5,594.9 3244.9,594.8 3248.4,594.7 3251.9,594.6 3255.3,594.5 3258.8,594.3 3262.3,594.1 3265.7,593.9 3269.2,593.7 3272.7,593.5 3276.1,593.2 3279.6,592.9 3283.1,592.6 3286.5,592.3 3290.0,592.0" fill="none" stroke="none" marker-start="url(#m-gold)" marker-mid="url(#m-gold)" marker-end="url(#m-gold)"/>
<polyline points="2458.0,611.0 2461.5,611.0 2464.9,610.9 2468.4,610.8 2471.9,610.8 2475.3,610.7 2478.8,610.6 2482.3,610.5 2485.7,610.4 2489.2,610.3 2492.7,610.2 2496.1,610.1 2499.6,610.0 2503.1,609.9 2506.5,609.8 2510.0,609.7 2513.5,609.5 2516.9,609.4 2520.4,609.3 2523.9,609.2 2527.3,609.0 2530.8,608.9 2534.3,608.8 2537.7,608.6 2541.2,608.5 2544.7,608.3 2548.1,608.1 2551.6,607.8 2555.1,607.6 2558.5,607.3 2562.0,606.8 2563.3,606.6 2564.6,606.4 2565.9,606.2 2567.2,605.9 2568.5,605.6 2569.8,605.3 2571.1,605.0 2572.4,604.7 2573.7,604.4 2575.0,604.0 2576.3,603.7 2577.6,603.3 2578.9,602.9 2580.2,602.4 2581.5,601.9 2582.8,601.3 2584.1,600.6 2585.4,599.8 2586.7,599.0 2588.0,598.1 2589.3,597.1 2590.6,596.1 2591.9,595.2 2593.2,594.2 2594.5,593.2 2595.8,592.1 2597.1,591.0 2598.4,589.8 2599.7,588.6 2601.0,587.2 2602.3,585.8 2603.6,584.2 2604.9,582.5 2606.2,580.6 2607.5,578.4 2608.8,575.9 2610.1,573.2 2611.4,570.1 2612.7,566.6 2614.0,562.6 2615.3,558.1 2616.6,553.1 2617.9,547.6 2619.2,540.1 2620.5,532.0 2621.8,525.2 2623.1,519.7 2624.4,514.7 2625.7,509.8 2627.0,504.6 2628.3,499.0 2629.6,493.1 2630.9,487.1 2632.2,481.0 2633.5,475.0 2634.8,468.9 2636.1,462.6 2637.4,456.4 2638.7,450.4 2640.0,445.0 2641.3,439.9 2642.6,435.1 2643.9,430.5 2645.2,425.8 2646.5,421.0 2647.8,415.7 2649.1,410.3 2650.4,404.7 2651.7,399.1 2653.0,393.9 2654.3,388.9 2655.6,383.9 2656.9,378.3 2658.2,371.7 2659.5,364.2 2660.8,357.7 2662.1,352.1 2663.4,346.9 2664.7,342.2 2666.0,338.1 2667.3,334.4 2668.6,331.0 2669.9,327.8 2671.2,324.5 2672.5,320.8 2673.8,316.1 2675.1,312.0 2676.4,310.0 2677.7,310.2 2679.0,310.7 2680.3,311.5 2681.6,312.6 2682.9,313.9 2684.2,315.3 2685.5,316.9 2686.8,318.5 2688.1,320.7 2689.4,323.6 2690.7,327.0 2692.0,330.5 2693.3,334.1 2694.6,338.1 2695.9,342.3 2697.2,346.1 2698.5,349.3 2699.8,352.3 2701.1,355.3 2702.4,358.5 2703.7,362.0 2705.0,366.0 2706.3,370.1 2707.6,373.7 2708.9,376.9 2710.2,379.9 2711.5,382.9 2712.8,386.1 2714.1,389.7 2715.4,393.7 2716.7,397.7 2718.0,401.4 2719.3,405.0 2720.6,408.5 2721.9,411.8 2723.2,414.8 2724.5,417.7 2725.8,420.4 2727.1,423.1 2728.4,425.8 2729.7,428.4 2731.0,431.0 2732.3,433.5 2733.6,436.2 2734.9,439.0 2736.2,442.0 2737.5,445.1 2738.8,448.0 2740.1,450.7 2741.4,453.2 2742.7,455.7 2744.0,458.2 2745.3,460.5 2746.6,462.9 2747.9,465.2 2749.2,467.4 2750.5,469.6 2751.8,471.8 2753.1,473.9 2754.4,475.9 2755.7,477.9 2757.0,479.9 2758.3,481.9 2759.6,484.0 2760.9,486.1 2762.2,488.2 2763.5,490.3 2764.8,492.3 2766.1,494.2 2767.4,496.1 2768.7,497.8 2770.0,499.4 2771.3,501.1 2772.6,502.8 2773.9,504.5 2775.2,506.3 2776.5,508.3 2777.8,510.4 2779.1,512.6 2780.4,514.8 2781.7,517.0 2783.0,519.2 2784.3,521.2 2785.6,523.0 2786.9,524.6 2788.2,525.9 2789.5,527.1 2790.8,528.2 2792.1,529.2 2793.4,530.2 2794.7,531.2 2796.0,532.2 2797.3,533.3 2798.6,534.4 2799.9,535.6 2801.2,536.8 2802.5,538.0 2803.8,539.1 2805.1,540.1 2806.4,541.1 2807.7,542.1 2809.0,543.1 2810.3,544.0 2811.6,544.8 2812.9,545.5 2814.2,546.2 2815.5,546.9 2816.8,547.5 2818.1,548.1 2819.4,548.6 2820.7,549.1 2822.0,549.5 2823.3,549.9 2824.6,550.3 2825.9,550.6 2827.2,551.0 2828.5,551.4 2829.8,551.7 2831.1,552.0 2832.4,552.3 2833.7,552.5 2835.0,552.7 2836.3,552.8 2837.6,552.9 2838.9,552.9 2840.2,552.9 2841.5,552.9 2842.8,552.8 2844.1,552.8 2845.4,552.7 2846.7,552.7 2848.0,552.6 2849.3,552.6 2850.6,552.5 2851.9,552.4 2853.2,552.3 2854.5,552.3 2855.8,552.2 2857.1,552.1 2858.4,552.0 2859.7,551.8 2861.0,551.7 2862.3,551.5 2863.6,551.3 2864.9,551.1 2866.2,551.0 2867.5,550.8 2868.8,550.7 2870.1,550.6 2871.4,550.5 2872.7,550.5 2874.0,550.5 2875.3,550.7 2876.6,550.9 2877.9,551.1 2879.2,551.4 2880.5,551.7 2881.8,552.0 2883.1,552.3 2884.4,552.6 2885.7,553.0 2887.0,553.4 2888.3,553.8 2889.6,554.3 2890.9,554.9 2892.2,555.6 2893.5,556.3 2894.8,557.1 2896.1,558.0 2897.4,559.0 2898.7,559.9 2900.0,560.9 2903.5,563.6 2906.9,566.2 2910.4,569.1 2913.9,572.0 2917.3,574.8 2920.8,577.2 2924.3,579.7 2927.7,582.0 2931.2,583.8 2934.7,585.2 2938.1,586.3 2941.6,587.3 2945.1,588.0 2948.5,588.3 2952.0,588.6 2955.5,588.8 2958.9,589.0 2962.4,589.2 2965.9,589.3 2969.3,589.4 2972.8,589.5 2976.3,589.6 2979.7,589.7 2983.2,589.8 2986.7,589.9 2990.1,589.9 2993.6,590.0 2997.1,590.0 3000.5,590.1 3004.0,590.2 3007.5,590.3 3010.9,590.4 3014.4,590.5 3017.9,590.7 3021.3,590.8 3024.8,590.9 3028.3,591.1 3031.7,591.3 3035.2,591.4 3038.7,591.6 3042.1,591.9 3045.6,592.2 3049.1,592.4 3052.5,592.7 3056.0,593.0 3059.5,593.3 3062.9,593.6 3066.4,593.8 3069.9,594.1 3073.3,594.3 3076.8,594.4 3080.3,594.5 3083.7,594.6 3087.2,594.7 3090.7,594.7 3094.1,594.8 3097.6,594.9 3101.1,594.9 3104.5,595.0 3108.0,595.0 3111.5,595.1 3114.9,595.1 3118.4,595.2 3121.9,595.2 3125.3,595.3 3128.8,595.3 3132.3,595.3 3135.7,595.4 3139.2,595.4 3142.7,595.4 3146.1,595.4 3149.6,595.4 3153.1,595.4 3156.5,595.4 3160.0,595.4 3163.5,595.4 3166.9,595.3 3170.4,595.3 3173.9,595.3 3177.3,595.2 3180.8,595.2 3184.3,595.1 3187.7,595.1 3191.2,595.0 3194.7,594.9 3198.1,594.9 3201.6,594.8 3205.1,594.7 3208.5,594.6 3212.0,594.6 3215.5,594.5 3218.9,594.4 3222.4,594.3 3225.9,594.2 3229.3,594.1 3232.8,594.0 3236.3,593.9 3239.7,593.7 3243.2,593.5 3246.7,593.3 3250.1,593.0 3253.6,592.7 3257.1,592.3 3260.5,591.9 3264.0,591.5 3267.5,591.1 3270.9,590.6 3274.4,590.2 3277.9,589.7 3281.3,589.2 3284.8,588.7 3288.3,588.2" fill="none" stroke="none" marker-start="url(#m-teal)" marker-mid="url(#m-teal)" marker-end="url(#m-teal)"/>
</g>
<text transform="translate(2443.5,43.0) scale(0.9538,1)" font-size="65" text-anchor="end">2.5</text>
<text transform="translate(2443.5,162.2) scale(0.9538,1)" font-size="65" text-anchor="end">2.0</text>
<text transform="translate(2443.5,281.4) scale(0.9538,1)" font-size="65" text-anchor="end">1.5</text>
<text transform="translate(2443.5,399.0) scale(0.9538,1)" font-size="65" text-anchor="end">1.0</text>
<text transform="translate(2443.5,516.4) scale(0.9538,1)" font-size="65" text-anchor="end">0.5</text>
<text transform="translate(2443.5,634.4) scale(0.9538,1)" font-size="65" text-anchor="end">0</text>
<text transform="translate(2458.5,727.8) scale(0.9538,1)" font-size="65" text-anchor="middle">40</text>
<text transform="translate(2596.7,727.8) scale(0.9538,1)" font-size="65" text-anchor="middle">60</text>
<text transform="translate(2736.4,727.8) scale(0.9538,1)" font-size="65" text-anchor="middle">80</text>
<text transform="translate(2874.3,727.8) scale(0.9538,1)" font-size="65" text-anchor="middle">100</text>
<text transform="translate(3011.9,727.8) scale(0.9538,1)" font-size="65" text-anchor="middle">120</text>
<text transform="translate(3151.2,727.8) scale(0.9538,1)" font-size="65" text-anchor="middle">140</text>
<text transform="translate(3289.8,727.8) scale(0.9538,1)" font-size="65" text-anchor="middle">160</text>
<text x="2871.2" y="808.3" font-size="62" text-anchor="middle">温度/℃</text>
<text transform="translate(2873.4,892.5) scale(0.960,1)" font-size="62" text-anchor="middle">(c) tan<tspan font-style="italic">δ</tspan></text>
<text transform="translate(2333.3,352.6) rotate(-90) scale(1.040,1)" font-size="62" text-anchor="middle">tan<tspan font-style="italic">δ</tspan></text>
<path d="M2754.5,154.0 H2834.5" stroke="#5a4f4d" stroke-width="4" fill="none"/>
<g transform="translate(2794.5,154.0)" fill="#5a4f4d" stroke="#5a4f4d" stroke-width="2" stroke-linejoin="round"><rect x="-6.3" y="-6.3" width="12.6" height="12.6"/></g>
<text x="2846.8" y="165.9" font-size="48" textLength="191.0" lengthAdjust="spacingAndGlyphs">Pure PLA</text>
<path d="M2754.5,196.3 H2834.5" stroke="#e2434a" stroke-width="4" fill="none"/>
<g transform="translate(2794.5,196.3)" fill="#e2434a" stroke="#e2434a" stroke-width="2" stroke-linejoin="round"><circle r="8.7"/></g>
<text x="2846.8" y="207.9" font-size="48" textLength="168.5" lengthAdjust="spacingAndGlyphs">PLA/LM</text>
<path d="M2754.5,238.6 H2834.5" stroke="#4762a9" stroke-width="4" fill="none"/>
<g transform="translate(2794.5,238.6)" fill="#4762a9" stroke="#4762a9" stroke-width="2" stroke-linejoin="round"><path d="M0,-11.6 L10.05,5.8 L-10.05,5.8Z"/></g>
<text x="2846.8" y="249.9" font-size="48" textLength="425.5" lengthAdjust="spacingAndGlyphs">PLA/LM/9ESO/1TOA</text>
<path d="M2754.5,280.9 H2834.5" stroke="#4a9c69" stroke-width="4" fill="none"/>
<g transform="translate(2794.5,280.9)" fill="#4a9c69" stroke="#4a9c69" stroke-width="2" stroke-linejoin="round"><path d="M0,11.6 L10.05,-5.8 L-10.05,-5.8Z"/></g>
<text x="2846.8" y="291.9" font-size="48" textLength="425.5" lengthAdjust="spacingAndGlyphs">PLA/LM/7ESO/3TOA</text>
<path d="M2754.5,323.2 H2834.5" stroke="#9b6eb6" stroke-width="4" fill="none"/>
<g transform="translate(2794.5,323.2)" fill="#9b6eb6" stroke="#9b6eb6" stroke-width="2" stroke-linejoin="round"><path d="M0,-10.3 L9,0 L0,10.3 L-9,0Z"/></g>
<text x="2846.8" y="333.9" font-size="48" textLength="425.5" lengthAdjust="spacingAndGlyphs">PLA/LM/5ESO/5TOA</text>
<path d="M2754.5,365.5 H2794.5 M2804.1,365.5 H2834.5" stroke="#c08f31" stroke-width="4" fill="none"/>
<g transform="translate(2794.5,365.5)" fill="#c08f31" stroke="#c08f31" stroke-width="2" stroke-linejoin="round"><path d="M-11.6,0 L5.8,-10.05 L5.8,10.05Z"/></g>
<text x="2846.8" y="375.9" font-size="48" textLength="425.5" lengthAdjust="spacingAndGlyphs">PLA/LM/3ESO/7TOA</text>
<path d="M2754.5,407.8 H2784.9 M2794.5,407.8 H2834.5" stroke="#53baab" stroke-width="4" fill="none"/>
<g transform="translate(2794.5,407.8)" fill="#53baab" stroke="#53baab" stroke-width="2" stroke-linejoin="round"><path d="M11.6,0 L-5.8,-10.05 L-5.8,10.05Z"/></g>
<text x="2846.8" y="417.9" font-size="48" textLength="425.5" lengthAdjust="spacingAndGlyphs">PLA/LM/1ESO/9TOA</text>
</svg></body></html>
